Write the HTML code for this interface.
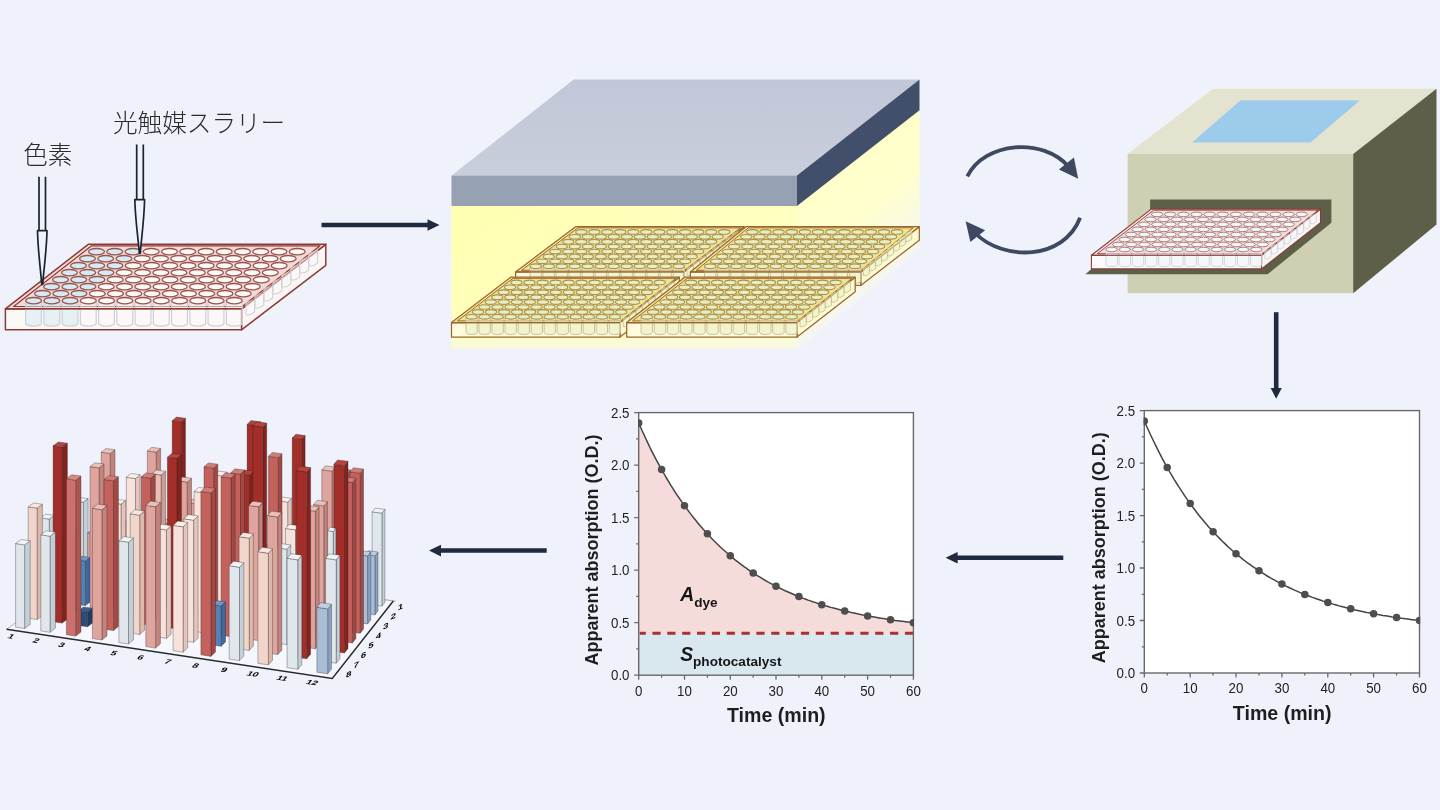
<!DOCTYPE html>
<html lang="ja"><head><meta charset="utf-8"><title>光触媒スラリー 色素</title>
<style>
html,body{margin:0;padding:0;background:#f0f2fb;}
body{width:1440px;height:810px;overflow:hidden;font-family:"Liberation Sans","Noto Sans CJK JP",sans-serif;}
svg{display:block}
text{font-family:"Liberation Sans","Noto Sans CJK JP",sans-serif;}
</style></head><body>
<svg width="1440" height="810" viewBox="0 0 1440 810">
<defs>
<linearGradient id="ygrad" x1="0" y1="0" x2="1" y2="1">
<stop offset="0" stop-color="#ffffa6"/><stop offset="0.5" stop-color="#ffffbe"/><stop offset="1" stop-color="#ffffd6"/>
</linearGradient>
<linearGradient id="yfade" x1="0" y1="0" x2="0" y2="1">
<stop offset="0" stop-color="#ffffc0" stop-opacity="1"/><stop offset="1" stop-color="#ffffd0" stop-opacity="0"/>
</linearGradient>
<linearGradient id="slabtop" x1="0" y1="0" x2="0" y2="1"><stop offset="0" stop-color="#c2c7d7"/><stop offset="1" stop-color="#c9cedd"/></linearGradient>
<linearGradient id="fadeb" x1="0" y1="0" x2="0" y2="1"><stop offset="0" stop-color="#f0f2fb" stop-opacity="0"/><stop offset="1" stop-color="#f0f2fb" stop-opacity="0.6"/></linearGradient>
<linearGradient id="faded" gradientUnits="userSpaceOnUse" x1="822" y1="246" x2="862" y2="295"><stop offset="0" stop-color="#f0f2fb" stop-opacity="0"/><stop offset="1" stop-color="#f0f2fb" stop-opacity="0.7"/></linearGradient>
</defs>
<rect width="1440" height="810" fill="#f0f2fb"/>

<g id="arrows">
<line x1="321.5" y1="225" x2="429.9" y2="225" stroke="#1f2a3e" stroke-width="4.5"/><polygon points="439.5,225 427.5,219.2 427.5,230.8" fill="#1f2a3e"/>
<line x1="1063.3" y1="557.7" x2="955.2" y2="557.7" stroke="#1f2a3e" stroke-width="4.5"/><polygon points="945.6,557.7 957.6,551.9000000000001 957.6,563.5" fill="#1f2a3e"/>
<line x1="546.7" y1="550.6" x2="438.6" y2="550.6" stroke="#1f2a3e" stroke-width="4.5"/><polygon points="429,550.6 441,544.8000000000001 441,556.4" fill="#1f2a3e"/>
<line x1="1276.2" y1="312.2" x2="1276.2" y2="390" stroke="#1f2a3e" stroke-width="4.6"/><polygon points="1276.2,398.8 1270.6,388 1281.8,388" fill="#1f2a3e"/>
<path d="M967.3,176.3 C 985,141.5 1043,137 1069,167" fill="none" stroke="#3c4961" stroke-width="3.8"/>
<polygon points="1073.9,157.6 1058.9,169.4 1078.2,178.7" fill="#3c4961"/>
<path d="M1080.1,217.8 C 1064,260 1004,262 975,233" fill="none" stroke="#3c4961" stroke-width="3.8"/>
<polygon points="965.6,221.2 985.1,230.2 970.4,242" fill="#3c4961"/>
</g>
<g id="plate-left">
<polygon points="241.5,308.8 325.8,244.3 325.8,265.3 241.5,329.8" fill="#fbf6f6" stroke="#8c3b36" stroke-width="1.5" stroke-linejoin="round"/>
<polygon points="5.4,308.8 241.5,308.8 241.5,329.8 5.4,329.8" fill="#fbf8f8" stroke="#8c3b36" stroke-width="1.5" stroke-linejoin="round"/>
<polygon points="5.4,308.8 88.3,244.3 325.8,244.3 241.5,308.8" fill="#f3dcd9" stroke="#8c3b36" stroke-width="1.5" stroke-linejoin="round"/>
<polygon points="13.6,306.5 91.6,245.8 320.1,245.8 242.2,306.5" fill="#f4d9d6" stroke="#8c3b36" stroke-width="1.2000000000000002" stroke-linejoin="round"/>
<path d="M246.0,301.7 v13.0 q4.4,1.3 8.7,-2.8 v-13.0" fill="#fbf8f6" fill-opacity="0.5" stroke="#cfcfd8" stroke-width="1.0499999999999998"/>
<path d="M255.0,294.7 v13.0 q4.4,1.3 8.7,-2.8 v-13.0" fill="#fbf8f6" fill-opacity="0.5" stroke="#cfcfd8" stroke-width="1.0499999999999998"/>
<path d="M264.0,287.7 v13.0 q4.4,1.3 8.7,-2.8 v-13.0" fill="#fbf8f6" fill-opacity="0.5" stroke="#cfcfd8" stroke-width="1.0499999999999998"/>
<path d="M273.0,280.7 v13.0 q4.4,1.3 8.7,-2.8 v-13.0" fill="#fbf8f6" fill-opacity="0.5" stroke="#cfcfd8" stroke-width="1.0499999999999998"/>
<path d="M282.0,273.7 v13.0 q4.4,1.3 8.7,-2.8 v-13.0" fill="#fbf8f6" fill-opacity="0.5" stroke="#cfcfd8" stroke-width="1.0499999999999998"/>
<path d="M290.9,266.7 v13.0 q4.4,1.3 8.7,-2.8 v-13.0" fill="#fbf8f6" fill-opacity="0.5" stroke="#cfcfd8" stroke-width="1.0499999999999998"/>
<path d="M299.9,259.7 v13.0 q4.4,1.3 8.7,-2.8 v-13.0" fill="#fbf8f6" fill-opacity="0.5" stroke="#cfcfd8" stroke-width="1.0499999999999998"/>
<path d="M308.9,252.7 v13.0 q4.4,1.3 8.7,-2.8 v-13.0" fill="#fbf8f6" fill-opacity="0.5" stroke="#cfcfd8" stroke-width="1.0499999999999998"/>
<path d="M25.6,300.7 v22.6 a7.9,2.8 0 0 0 15.8,0 v-22.6" fill="#d6eaf3" fill-opacity="0.55" stroke="#cfcfd8" stroke-width="1.2000000000000002"/>
<path d="M43.9,300.7 v22.6 a7.9,2.8 0 0 0 15.8,0 v-22.6" fill="#d6eaf3" fill-opacity="0.55" stroke="#cfcfd8" stroke-width="1.2000000000000002"/>
<path d="M62.1,300.7 v22.6 a7.9,2.8 0 0 0 15.8,0 v-22.6" fill="#d6eaf3" fill-opacity="0.55" stroke="#cfcfd8" stroke-width="1.2000000000000002"/>
<path d="M80.4,300.7 v22.6 a7.9,2.8 0 0 0 15.8,0 v-22.6" fill="#fbf8f6" fill-opacity="0.55" stroke="#cfcfd8" stroke-width="1.2000000000000002"/>
<path d="M98.6,300.7 v22.6 a7.9,2.8 0 0 0 15.8,0 v-22.6" fill="#fbf8f6" fill-opacity="0.55" stroke="#cfcfd8" stroke-width="1.2000000000000002"/>
<path d="M116.9,300.7 v22.6 a7.9,2.8 0 0 0 15.8,0 v-22.6" fill="#fbf8f6" fill-opacity="0.55" stroke="#cfcfd8" stroke-width="1.2000000000000002"/>
<path d="M135.1,300.7 v22.6 a7.9,2.8 0 0 0 15.8,0 v-22.6" fill="#fbf8f6" fill-opacity="0.55" stroke="#cfcfd8" stroke-width="1.2000000000000002"/>
<path d="M153.4,300.7 v22.6 a7.9,2.8 0 0 0 15.8,0 v-22.6" fill="#fbf8f6" fill-opacity="0.55" stroke="#cfcfd8" stroke-width="1.2000000000000002"/>
<path d="M171.6,300.7 v22.6 a7.9,2.8 0 0 0 15.8,0 v-22.6" fill="#fbf8f6" fill-opacity="0.55" stroke="#cfcfd8" stroke-width="1.2000000000000002"/>
<path d="M189.9,300.7 v22.6 a7.9,2.8 0 0 0 15.8,0 v-22.6" fill="#fbf8f6" fill-opacity="0.55" stroke="#cfcfd8" stroke-width="1.2000000000000002"/>
<path d="M208.1,300.7 v22.6 a7.9,2.8 0 0 0 15.8,0 v-22.6" fill="#fbf8f6" fill-opacity="0.55" stroke="#cfcfd8" stroke-width="1.2000000000000002"/>
<path d="M226.4,300.7 v22.6 a7.9,2.8 0 0 0 15.8,0 v-22.6" fill="#fbf8f6" fill-opacity="0.55" stroke="#cfcfd8" stroke-width="1.2000000000000002"/>
<line x1="5.4" y1="308.8" x2="241.5" y2="308.8" stroke="#8c3b36" stroke-width="1.5"/>
<ellipse cx="96.5" cy="251.7" rx="7.9" ry="3.2" fill="#d6eaf3" stroke="#96544f" stroke-width="1.275"/>
<ellipse cx="114.7" cy="251.7" rx="7.9" ry="3.2" fill="#d6eaf3" stroke="#96544f" stroke-width="1.275"/>
<ellipse cx="133.0" cy="251.7" rx="7.9" ry="3.2" fill="#d6eaf3" stroke="#96544f" stroke-width="1.275"/>
<ellipse cx="151.2" cy="251.7" rx="7.9" ry="3.2" fill="#fbf8f6" stroke="#96544f" stroke-width="1.275"/>
<ellipse cx="169.5" cy="251.7" rx="7.9" ry="3.2" fill="#fbf8f6" stroke="#96544f" stroke-width="1.275"/>
<ellipse cx="187.7" cy="251.7" rx="7.9" ry="3.2" fill="#fbf8f6" stroke="#96544f" stroke-width="1.275"/>
<ellipse cx="206.0" cy="251.7" rx="7.9" ry="3.2" fill="#fbf8f6" stroke="#96544f" stroke-width="1.275"/>
<ellipse cx="224.2" cy="251.7" rx="7.9" ry="3.2" fill="#fbf8f6" stroke="#96544f" stroke-width="1.275"/>
<ellipse cx="242.5" cy="251.7" rx="7.9" ry="3.2" fill="#fbf8f6" stroke="#96544f" stroke-width="1.275"/>
<ellipse cx="260.7" cy="251.7" rx="7.9" ry="3.2" fill="#fbf8f6" stroke="#96544f" stroke-width="1.275"/>
<ellipse cx="279.0" cy="251.7" rx="7.9" ry="3.2" fill="#fbf8f6" stroke="#96544f" stroke-width="1.275"/>
<ellipse cx="297.2" cy="251.7" rx="7.9" ry="3.2" fill="#fbf8f6" stroke="#96544f" stroke-width="1.275"/>
<ellipse cx="87.5" cy="258.7" rx="7.9" ry="3.2" fill="#d6eaf3" stroke="#96544f" stroke-width="1.275"/>
<ellipse cx="105.7" cy="258.7" rx="7.9" ry="3.2" fill="#d6eaf3" stroke="#96544f" stroke-width="1.275"/>
<ellipse cx="124.0" cy="258.7" rx="7.9" ry="3.2" fill="#d6eaf3" stroke="#96544f" stroke-width="1.275"/>
<ellipse cx="142.2" cy="258.7" rx="7.9" ry="3.2" fill="#fbf8f6" stroke="#96544f" stroke-width="1.275"/>
<ellipse cx="160.5" cy="258.7" rx="7.9" ry="3.2" fill="#fbf8f6" stroke="#96544f" stroke-width="1.275"/>
<ellipse cx="178.7" cy="258.7" rx="7.9" ry="3.2" fill="#fbf8f6" stroke="#96544f" stroke-width="1.275"/>
<ellipse cx="197.0" cy="258.7" rx="7.9" ry="3.2" fill="#fbf8f6" stroke="#96544f" stroke-width="1.275"/>
<ellipse cx="215.2" cy="258.7" rx="7.9" ry="3.2" fill="#fbf8f6" stroke="#96544f" stroke-width="1.275"/>
<ellipse cx="233.5" cy="258.7" rx="7.9" ry="3.2" fill="#fbf8f6" stroke="#96544f" stroke-width="1.275"/>
<ellipse cx="251.7" cy="258.7" rx="7.9" ry="3.2" fill="#fbf8f6" stroke="#96544f" stroke-width="1.275"/>
<ellipse cx="270.0" cy="258.7" rx="7.9" ry="3.2" fill="#fbf8f6" stroke="#96544f" stroke-width="1.275"/>
<ellipse cx="288.2" cy="258.7" rx="7.9" ry="3.2" fill="#fbf8f6" stroke="#96544f" stroke-width="1.275"/>
<ellipse cx="78.5" cy="265.7" rx="7.9" ry="3.2" fill="#d6eaf3" stroke="#96544f" stroke-width="1.275"/>
<ellipse cx="96.7" cy="265.7" rx="7.9" ry="3.2" fill="#d6eaf3" stroke="#96544f" stroke-width="1.275"/>
<ellipse cx="115.0" cy="265.7" rx="7.9" ry="3.2" fill="#d6eaf3" stroke="#96544f" stroke-width="1.275"/>
<ellipse cx="133.2" cy="265.7" rx="7.9" ry="3.2" fill="#fbf8f6" stroke="#96544f" stroke-width="1.275"/>
<ellipse cx="151.5" cy="265.7" rx="7.9" ry="3.2" fill="#fbf8f6" stroke="#96544f" stroke-width="1.275"/>
<ellipse cx="169.7" cy="265.7" rx="7.9" ry="3.2" fill="#fbf8f6" stroke="#96544f" stroke-width="1.275"/>
<ellipse cx="188.0" cy="265.7" rx="7.9" ry="3.2" fill="#fbf8f6" stroke="#96544f" stroke-width="1.275"/>
<ellipse cx="206.2" cy="265.7" rx="7.9" ry="3.2" fill="#fbf8f6" stroke="#96544f" stroke-width="1.275"/>
<ellipse cx="224.5" cy="265.7" rx="7.9" ry="3.2" fill="#fbf8f6" stroke="#96544f" stroke-width="1.275"/>
<ellipse cx="242.7" cy="265.7" rx="7.9" ry="3.2" fill="#fbf8f6" stroke="#96544f" stroke-width="1.275"/>
<ellipse cx="261.0" cy="265.7" rx="7.9" ry="3.2" fill="#fbf8f6" stroke="#96544f" stroke-width="1.275"/>
<ellipse cx="279.2" cy="265.7" rx="7.9" ry="3.2" fill="#fbf8f6" stroke="#96544f" stroke-width="1.275"/>
<ellipse cx="69.5" cy="272.7" rx="7.9" ry="3.2" fill="#d6eaf3" stroke="#96544f" stroke-width="1.275"/>
<ellipse cx="87.7" cy="272.7" rx="7.9" ry="3.2" fill="#d6eaf3" stroke="#96544f" stroke-width="1.275"/>
<ellipse cx="106.0" cy="272.7" rx="7.9" ry="3.2" fill="#d6eaf3" stroke="#96544f" stroke-width="1.275"/>
<ellipse cx="124.2" cy="272.7" rx="7.9" ry="3.2" fill="#fbf8f6" stroke="#96544f" stroke-width="1.275"/>
<ellipse cx="142.5" cy="272.7" rx="7.9" ry="3.2" fill="#fbf8f6" stroke="#96544f" stroke-width="1.275"/>
<ellipse cx="160.8" cy="272.7" rx="7.9" ry="3.2" fill="#fbf8f6" stroke="#96544f" stroke-width="1.275"/>
<ellipse cx="179.0" cy="272.7" rx="7.9" ry="3.2" fill="#fbf8f6" stroke="#96544f" stroke-width="1.275"/>
<ellipse cx="197.3" cy="272.7" rx="7.9" ry="3.2" fill="#fbf8f6" stroke="#96544f" stroke-width="1.275"/>
<ellipse cx="215.5" cy="272.7" rx="7.9" ry="3.2" fill="#fbf8f6" stroke="#96544f" stroke-width="1.275"/>
<ellipse cx="233.8" cy="272.7" rx="7.9" ry="3.2" fill="#fbf8f6" stroke="#96544f" stroke-width="1.275"/>
<ellipse cx="252.0" cy="272.7" rx="7.9" ry="3.2" fill="#fbf8f6" stroke="#96544f" stroke-width="1.275"/>
<ellipse cx="270.3" cy="272.7" rx="7.9" ry="3.2" fill="#fbf8f6" stroke="#96544f" stroke-width="1.275"/>
<ellipse cx="60.5" cy="279.7" rx="7.9" ry="3.2" fill="#d6eaf3" stroke="#96544f" stroke-width="1.275"/>
<ellipse cx="78.8" cy="279.7" rx="7.9" ry="3.2" fill="#d6eaf3" stroke="#96544f" stroke-width="1.275"/>
<ellipse cx="97.0" cy="279.7" rx="7.9" ry="3.2" fill="#d6eaf3" stroke="#96544f" stroke-width="1.275"/>
<ellipse cx="115.3" cy="279.7" rx="7.9" ry="3.2" fill="#fbf8f6" stroke="#96544f" stroke-width="1.275"/>
<ellipse cx="133.5" cy="279.7" rx="7.9" ry="3.2" fill="#fbf8f6" stroke="#96544f" stroke-width="1.275"/>
<ellipse cx="151.8" cy="279.7" rx="7.9" ry="3.2" fill="#fbf8f6" stroke="#96544f" stroke-width="1.275"/>
<ellipse cx="170.0" cy="279.7" rx="7.9" ry="3.2" fill="#fbf8f6" stroke="#96544f" stroke-width="1.275"/>
<ellipse cx="188.3" cy="279.7" rx="7.9" ry="3.2" fill="#fbf8f6" stroke="#96544f" stroke-width="1.275"/>
<ellipse cx="206.5" cy="279.7" rx="7.9" ry="3.2" fill="#fbf8f6" stroke="#96544f" stroke-width="1.275"/>
<ellipse cx="224.8" cy="279.7" rx="7.9" ry="3.2" fill="#fbf8f6" stroke="#96544f" stroke-width="1.275"/>
<ellipse cx="243.0" cy="279.7" rx="7.9" ry="3.2" fill="#fbf8f6" stroke="#96544f" stroke-width="1.275"/>
<ellipse cx="261.3" cy="279.7" rx="7.9" ry="3.2" fill="#fbf8f6" stroke="#96544f" stroke-width="1.275"/>
<ellipse cx="51.5" cy="286.7" rx="7.9" ry="3.2" fill="#d6eaf3" stroke="#96544f" stroke-width="1.275"/>
<ellipse cx="69.8" cy="286.7" rx="7.9" ry="3.2" fill="#d6eaf3" stroke="#96544f" stroke-width="1.275"/>
<ellipse cx="88.0" cy="286.7" rx="7.9" ry="3.2" fill="#d6eaf3" stroke="#96544f" stroke-width="1.275"/>
<ellipse cx="106.3" cy="286.7" rx="7.9" ry="3.2" fill="#fbf8f6" stroke="#96544f" stroke-width="1.275"/>
<ellipse cx="124.5" cy="286.7" rx="7.9" ry="3.2" fill="#fbf8f6" stroke="#96544f" stroke-width="1.275"/>
<ellipse cx="142.8" cy="286.7" rx="7.9" ry="3.2" fill="#fbf8f6" stroke="#96544f" stroke-width="1.275"/>
<ellipse cx="161.0" cy="286.7" rx="7.9" ry="3.2" fill="#fbf8f6" stroke="#96544f" stroke-width="1.275"/>
<ellipse cx="179.3" cy="286.7" rx="7.9" ry="3.2" fill="#fbf8f6" stroke="#96544f" stroke-width="1.275"/>
<ellipse cx="197.5" cy="286.7" rx="7.9" ry="3.2" fill="#fbf8f6" stroke="#96544f" stroke-width="1.275"/>
<ellipse cx="215.8" cy="286.7" rx="7.9" ry="3.2" fill="#fbf8f6" stroke="#96544f" stroke-width="1.275"/>
<ellipse cx="234.0" cy="286.7" rx="7.9" ry="3.2" fill="#fbf8f6" stroke="#96544f" stroke-width="1.275"/>
<ellipse cx="252.3" cy="286.7" rx="7.9" ry="3.2" fill="#fbf8f6" stroke="#96544f" stroke-width="1.275"/>
<ellipse cx="42.5" cy="293.7" rx="7.9" ry="3.2" fill="#d6eaf3" stroke="#96544f" stroke-width="1.275"/>
<ellipse cx="60.8" cy="293.7" rx="7.9" ry="3.2" fill="#d6eaf3" stroke="#96544f" stroke-width="1.275"/>
<ellipse cx="79.0" cy="293.7" rx="7.9" ry="3.2" fill="#d6eaf3" stroke="#96544f" stroke-width="1.275"/>
<ellipse cx="97.3" cy="293.7" rx="7.9" ry="3.2" fill="#fbf8f6" stroke="#96544f" stroke-width="1.275"/>
<ellipse cx="115.5" cy="293.7" rx="7.9" ry="3.2" fill="#fbf8f6" stroke="#96544f" stroke-width="1.275"/>
<ellipse cx="133.8" cy="293.7" rx="7.9" ry="3.2" fill="#fbf8f6" stroke="#96544f" stroke-width="1.275"/>
<ellipse cx="152.0" cy="293.7" rx="7.9" ry="3.2" fill="#fbf8f6" stroke="#96544f" stroke-width="1.275"/>
<ellipse cx="170.3" cy="293.7" rx="7.9" ry="3.2" fill="#fbf8f6" stroke="#96544f" stroke-width="1.275"/>
<ellipse cx="188.5" cy="293.7" rx="7.9" ry="3.2" fill="#fbf8f6" stroke="#96544f" stroke-width="1.275"/>
<ellipse cx="206.8" cy="293.7" rx="7.9" ry="3.2" fill="#fbf8f6" stroke="#96544f" stroke-width="1.275"/>
<ellipse cx="225.0" cy="293.7" rx="7.9" ry="3.2" fill="#fbf8f6" stroke="#96544f" stroke-width="1.275"/>
<ellipse cx="243.3" cy="293.7" rx="7.9" ry="3.2" fill="#fbf8f6" stroke="#96544f" stroke-width="1.275"/>
<ellipse cx="33.6" cy="300.7" rx="7.9" ry="3.2" fill="#d6eaf3" stroke="#96544f" stroke-width="1.275"/>
<ellipse cx="51.8" cy="300.7" rx="7.9" ry="3.2" fill="#d6eaf3" stroke="#96544f" stroke-width="1.275"/>
<ellipse cx="70.1" cy="300.7" rx="7.9" ry="3.2" fill="#d6eaf3" stroke="#96544f" stroke-width="1.275"/>
<ellipse cx="88.3" cy="300.7" rx="7.9" ry="3.2" fill="#fbf8f6" stroke="#96544f" stroke-width="1.275"/>
<ellipse cx="106.6" cy="300.7" rx="7.9" ry="3.2" fill="#fbf8f6" stroke="#96544f" stroke-width="1.275"/>
<ellipse cx="124.8" cy="300.7" rx="7.9" ry="3.2" fill="#fbf8f6" stroke="#96544f" stroke-width="1.275"/>
<ellipse cx="143.1" cy="300.7" rx="7.9" ry="3.2" fill="#fbf8f6" stroke="#96544f" stroke-width="1.275"/>
<ellipse cx="161.3" cy="300.7" rx="7.9" ry="3.2" fill="#fbf8f6" stroke="#96544f" stroke-width="1.275"/>
<ellipse cx="179.6" cy="300.7" rx="7.9" ry="3.2" fill="#fbf8f6" stroke="#96544f" stroke-width="1.275"/>
<ellipse cx="197.8" cy="300.7" rx="7.9" ry="3.2" fill="#fbf8f6" stroke="#96544f" stroke-width="1.275"/>
<ellipse cx="216.1" cy="300.7" rx="7.9" ry="3.2" fill="#fbf8f6" stroke="#96544f" stroke-width="1.275"/>
<ellipse cx="234.3" cy="300.7" rx="7.9" ry="3.2" fill="#fbf8f6" stroke="#96544f" stroke-width="1.275"/>
</g>
<g id="pipettes" stroke="#1a2432" stroke-width="1.7" fill="none" stroke-linejoin="round">
<path d="M39,176.7 V230.7 M45.5,176.7 V230.7"/>
<path d="M37.5,230.7 H47 C46.6,250 44,268 42.6,284.5 L41.8,284.5 C40.4,268 37.9,250 37.5,230.7 Z" fill="#f0f2fb"/>
<path d="M136.7,144.6 V199.6 M143.3,144.6 V199.6"/>
<path d="M134.8,199.6 H144.6 C144.2,219 141.6,237 140.2,253.5 L139.4,253.5 C138,237 135.2,219 134.8,199.6 Z" fill="#f0f2fb"/>
</g>
<g id="labels" fill="#2b2b2b" font-size="24.6" font-weight="300">
<text x="113" y="132.4">光触媒スラリー</text>
<text x="23.2" y="164" font-size="24.6">色素</text>
</g>
<g id="lightbox">
<polygon points="451.5,205 797,205 919.5,109 919.5,249 797,349 451.5,349" fill="url(#ygrad)"/>
<polygon points="797,206 919.5,110.3 919.5,249 797,349" fill="#ffffe0" fill-opacity="0.35"/>
<rect x="451.5" y="336" width="345.5" height="13" fill="url(#fadeb)"/>
<polygon points="797,349 919.5,249 919.5,170 797,270" fill="url(#faded)"/>
<polygon points="451.5,175.6 573.7,79.6 919.5,79.6 797,175.6" fill="url(#slabtop)"/>
<polygon points="451.5,175.6 797,175.6 797,206 451.5,206" fill="#96a1b4"/>
<polygon points="797,175.6 919.5,79.6 919.5,110.3 797,206" fill="#414f6a"/>
<polygon points="683.7,271.9 744.0,226.7 744.0,240.2 683.7,285.4" fill="#fffad2" stroke="#9a6630" stroke-width="1.25" stroke-linejoin="round"/>
<polygon points="515.6,271.9 683.7,271.9 683.7,285.4 515.6,285.4" fill="#fffbdc" stroke="#9a6630" stroke-width="1.25" stroke-linejoin="round"/>
<polygon points="515.6,271.9 575.6,226.7 744.0,226.7 683.7,271.9" fill="#f3e89a" stroke="#9a6630" stroke-width="1.25" stroke-linejoin="round"/>
<polygon points="521.5,270.3 577.9,227.8 740.6,227.8 684.2,270.3" fill="#f1e491" stroke="#9a6630" stroke-width="1.0" stroke-linejoin="round"/>
<path d="M687.0,267.2 v8.4 q3.1,0.9 6.2,-2.0 v-8.4" fill="#e6efc4" fill-opacity="0.5" stroke="#c9c294" stroke-width="0.875"/>
<path d="M693.5,262.3 v8.4 q3.1,0.9 6.2,-2.0 v-8.4" fill="#e6efc4" fill-opacity="0.5" stroke="#c9c294" stroke-width="0.875"/>
<path d="M700.0,257.4 v8.4 q3.1,0.9 6.2,-2.0 v-8.4" fill="#e6efc4" fill-opacity="0.5" stroke="#c9c294" stroke-width="0.875"/>
<path d="M706.5,252.5 v8.4 q3.1,0.9 6.2,-2.0 v-8.4" fill="#e6efc4" fill-opacity="0.5" stroke="#c9c294" stroke-width="0.875"/>
<path d="M713.1,247.6 v8.4 q3.1,0.9 6.2,-2.0 v-8.4" fill="#e6efc4" fill-opacity="0.5" stroke="#c9c294" stroke-width="0.875"/>
<path d="M719.6,242.7 v8.4 q3.1,0.9 6.2,-2.0 v-8.4" fill="#e6efc4" fill-opacity="0.5" stroke="#c9c294" stroke-width="0.875"/>
<path d="M726.1,237.8 v8.4 q3.1,0.9 6.2,-2.0 v-8.4" fill="#e6efc4" fill-opacity="0.5" stroke="#c9c294" stroke-width="0.875"/>
<path d="M732.6,232.9 v8.4 q3.1,0.9 6.2,-2.0 v-8.4" fill="#e6efc4" fill-opacity="0.5" stroke="#c9c294" stroke-width="0.875"/>
<path d="M530.1,266.2 v14.9 a5.6,2.0 0 0 0 11.3,0 v-14.9" fill="#e6efc4" fill-opacity="0.55" stroke="#c9c294" stroke-width="1.0"/>
<path d="M543.1,266.2 v14.9 a5.6,2.0 0 0 0 11.3,0 v-14.9" fill="#e6efc4" fill-opacity="0.55" stroke="#c9c294" stroke-width="1.0"/>
<path d="M556.1,266.2 v14.9 a5.6,2.0 0 0 0 11.3,0 v-14.9" fill="#e6efc4" fill-opacity="0.55" stroke="#c9c294" stroke-width="1.0"/>
<path d="M569.1,266.2 v14.9 a5.6,2.0 0 0 0 11.3,0 v-14.9" fill="#e6efc4" fill-opacity="0.55" stroke="#c9c294" stroke-width="1.0"/>
<path d="M582.1,266.2 v14.9 a5.6,2.0 0 0 0 11.3,0 v-14.9" fill="#e6efc4" fill-opacity="0.55" stroke="#c9c294" stroke-width="1.0"/>
<path d="M595.1,266.2 v14.9 a5.6,2.0 0 0 0 11.3,0 v-14.9" fill="#e6efc4" fill-opacity="0.55" stroke="#c9c294" stroke-width="1.0"/>
<path d="M608.1,266.2 v14.9 a5.6,2.0 0 0 0 11.3,0 v-14.9" fill="#e6efc4" fill-opacity="0.55" stroke="#c9c294" stroke-width="1.0"/>
<path d="M621.1,266.2 v14.9 a5.6,2.0 0 0 0 11.3,0 v-14.9" fill="#e6efc4" fill-opacity="0.55" stroke="#c9c294" stroke-width="1.0"/>
<path d="M634.1,266.2 v14.9 a5.6,2.0 0 0 0 11.3,0 v-14.9" fill="#e6efc4" fill-opacity="0.55" stroke="#c9c294" stroke-width="1.0"/>
<path d="M647.1,266.2 v14.9 a5.6,2.0 0 0 0 11.3,0 v-14.9" fill="#e6efc4" fill-opacity="0.55" stroke="#c9c294" stroke-width="1.0"/>
<path d="M660.1,266.2 v14.9 a5.6,2.0 0 0 0 11.3,0 v-14.9" fill="#e6efc4" fill-opacity="0.55" stroke="#c9c294" stroke-width="1.0"/>
<path d="M673.1,266.2 v14.9 a5.6,2.0 0 0 0 11.3,0 v-14.9" fill="#e6efc4" fill-opacity="0.55" stroke="#c9c294" stroke-width="1.0"/>
<line x1="515.6" y1="271.9" x2="683.7" y2="271.9" stroke="#9a6630" stroke-width="1.25"/>
<ellipse cx="581.3" cy="231.9" rx="5.6" ry="2.3" fill="#e6efc4" stroke="#ad9050" stroke-width="1.0625"/>
<ellipse cx="594.3" cy="231.9" rx="5.6" ry="2.3" fill="#e6efc4" stroke="#ad9050" stroke-width="1.0625"/>
<ellipse cx="607.3" cy="231.9" rx="5.6" ry="2.3" fill="#e6efc4" stroke="#ad9050" stroke-width="1.0625"/>
<ellipse cx="620.3" cy="231.9" rx="5.6" ry="2.3" fill="#e6efc4" stroke="#ad9050" stroke-width="1.0625"/>
<ellipse cx="633.3" cy="231.9" rx="5.6" ry="2.3" fill="#e6efc4" stroke="#ad9050" stroke-width="1.0625"/>
<ellipse cx="646.3" cy="231.9" rx="5.6" ry="2.3" fill="#e6efc4" stroke="#ad9050" stroke-width="1.0625"/>
<ellipse cx="659.3" cy="231.9" rx="5.6" ry="2.3" fill="#e6efc4" stroke="#ad9050" stroke-width="1.0625"/>
<ellipse cx="672.3" cy="231.9" rx="5.6" ry="2.3" fill="#e6efc4" stroke="#ad9050" stroke-width="1.0625"/>
<ellipse cx="685.2" cy="231.9" rx="5.6" ry="2.3" fill="#e6efc4" stroke="#ad9050" stroke-width="1.0625"/>
<ellipse cx="698.2" cy="231.9" rx="5.6" ry="2.3" fill="#e6efc4" stroke="#ad9050" stroke-width="1.0625"/>
<ellipse cx="711.2" cy="231.9" rx="5.6" ry="2.3" fill="#e6efc4" stroke="#ad9050" stroke-width="1.0625"/>
<ellipse cx="724.2" cy="231.9" rx="5.6" ry="2.3" fill="#e6efc4" stroke="#ad9050" stroke-width="1.0625"/>
<ellipse cx="574.8" cy="236.8" rx="5.6" ry="2.3" fill="#e6efc4" stroke="#ad9050" stroke-width="1.0625"/>
<ellipse cx="587.8" cy="236.8" rx="5.6" ry="2.3" fill="#e6efc4" stroke="#ad9050" stroke-width="1.0625"/>
<ellipse cx="600.8" cy="236.8" rx="5.6" ry="2.3" fill="#e6efc4" stroke="#ad9050" stroke-width="1.0625"/>
<ellipse cx="613.8" cy="236.8" rx="5.6" ry="2.3" fill="#e6efc4" stroke="#ad9050" stroke-width="1.0625"/>
<ellipse cx="626.8" cy="236.8" rx="5.6" ry="2.3" fill="#e6efc4" stroke="#ad9050" stroke-width="1.0625"/>
<ellipse cx="639.8" cy="236.8" rx="5.6" ry="2.3" fill="#e6efc4" stroke="#ad9050" stroke-width="1.0625"/>
<ellipse cx="652.8" cy="236.8" rx="5.6" ry="2.3" fill="#e6efc4" stroke="#ad9050" stroke-width="1.0625"/>
<ellipse cx="665.8" cy="236.8" rx="5.6" ry="2.3" fill="#e6efc4" stroke="#ad9050" stroke-width="1.0625"/>
<ellipse cx="678.7" cy="236.8" rx="5.6" ry="2.3" fill="#e6efc4" stroke="#ad9050" stroke-width="1.0625"/>
<ellipse cx="691.7" cy="236.8" rx="5.6" ry="2.3" fill="#e6efc4" stroke="#ad9050" stroke-width="1.0625"/>
<ellipse cx="704.7" cy="236.8" rx="5.6" ry="2.3" fill="#e6efc4" stroke="#ad9050" stroke-width="1.0625"/>
<ellipse cx="717.7" cy="236.8" rx="5.6" ry="2.3" fill="#e6efc4" stroke="#ad9050" stroke-width="1.0625"/>
<ellipse cx="568.3" cy="241.7" rx="5.6" ry="2.3" fill="#e6efc4" stroke="#ad9050" stroke-width="1.0625"/>
<ellipse cx="581.3" cy="241.7" rx="5.6" ry="2.3" fill="#e6efc4" stroke="#ad9050" stroke-width="1.0625"/>
<ellipse cx="594.3" cy="241.7" rx="5.6" ry="2.3" fill="#e6efc4" stroke="#ad9050" stroke-width="1.0625"/>
<ellipse cx="607.3" cy="241.7" rx="5.6" ry="2.3" fill="#e6efc4" stroke="#ad9050" stroke-width="1.0625"/>
<ellipse cx="620.3" cy="241.7" rx="5.6" ry="2.3" fill="#e6efc4" stroke="#ad9050" stroke-width="1.0625"/>
<ellipse cx="633.3" cy="241.7" rx="5.6" ry="2.3" fill="#e6efc4" stroke="#ad9050" stroke-width="1.0625"/>
<ellipse cx="646.3" cy="241.7" rx="5.6" ry="2.3" fill="#e6efc4" stroke="#ad9050" stroke-width="1.0625"/>
<ellipse cx="659.2" cy="241.7" rx="5.6" ry="2.3" fill="#e6efc4" stroke="#ad9050" stroke-width="1.0625"/>
<ellipse cx="672.2" cy="241.7" rx="5.6" ry="2.3" fill="#e6efc4" stroke="#ad9050" stroke-width="1.0625"/>
<ellipse cx="685.2" cy="241.7" rx="5.6" ry="2.3" fill="#e6efc4" stroke="#ad9050" stroke-width="1.0625"/>
<ellipse cx="698.2" cy="241.7" rx="5.6" ry="2.3" fill="#e6efc4" stroke="#ad9050" stroke-width="1.0625"/>
<ellipse cx="711.2" cy="241.7" rx="5.6" ry="2.3" fill="#e6efc4" stroke="#ad9050" stroke-width="1.0625"/>
<ellipse cx="561.8" cy="246.6" rx="5.6" ry="2.3" fill="#e6efc4" stroke="#ad9050" stroke-width="1.0625"/>
<ellipse cx="574.8" cy="246.6" rx="5.6" ry="2.3" fill="#e6efc4" stroke="#ad9050" stroke-width="1.0625"/>
<ellipse cx="587.8" cy="246.6" rx="5.6" ry="2.3" fill="#e6efc4" stroke="#ad9050" stroke-width="1.0625"/>
<ellipse cx="600.8" cy="246.6" rx="5.6" ry="2.3" fill="#e6efc4" stroke="#ad9050" stroke-width="1.0625"/>
<ellipse cx="613.8" cy="246.6" rx="5.6" ry="2.3" fill="#e6efc4" stroke="#ad9050" stroke-width="1.0625"/>
<ellipse cx="626.8" cy="246.6" rx="5.6" ry="2.3" fill="#e6efc4" stroke="#ad9050" stroke-width="1.0625"/>
<ellipse cx="639.7" cy="246.6" rx="5.6" ry="2.3" fill="#e6efc4" stroke="#ad9050" stroke-width="1.0625"/>
<ellipse cx="652.7" cy="246.6" rx="5.6" ry="2.3" fill="#e6efc4" stroke="#ad9050" stroke-width="1.0625"/>
<ellipse cx="665.7" cy="246.6" rx="5.6" ry="2.3" fill="#e6efc4" stroke="#ad9050" stroke-width="1.0625"/>
<ellipse cx="678.7" cy="246.6" rx="5.6" ry="2.3" fill="#e6efc4" stroke="#ad9050" stroke-width="1.0625"/>
<ellipse cx="691.7" cy="246.6" rx="5.6" ry="2.3" fill="#e6efc4" stroke="#ad9050" stroke-width="1.0625"/>
<ellipse cx="704.7" cy="246.6" rx="5.6" ry="2.3" fill="#e6efc4" stroke="#ad9050" stroke-width="1.0625"/>
<ellipse cx="555.3" cy="251.5" rx="5.6" ry="2.3" fill="#e6efc4" stroke="#ad9050" stroke-width="1.0625"/>
<ellipse cx="568.3" cy="251.5" rx="5.6" ry="2.3" fill="#e6efc4" stroke="#ad9050" stroke-width="1.0625"/>
<ellipse cx="581.3" cy="251.5" rx="5.6" ry="2.3" fill="#e6efc4" stroke="#ad9050" stroke-width="1.0625"/>
<ellipse cx="594.3" cy="251.5" rx="5.6" ry="2.3" fill="#e6efc4" stroke="#ad9050" stroke-width="1.0625"/>
<ellipse cx="607.3" cy="251.5" rx="5.6" ry="2.3" fill="#e6efc4" stroke="#ad9050" stroke-width="1.0625"/>
<ellipse cx="620.3" cy="251.5" rx="5.6" ry="2.3" fill="#e6efc4" stroke="#ad9050" stroke-width="1.0625"/>
<ellipse cx="633.2" cy="251.5" rx="5.6" ry="2.3" fill="#e6efc4" stroke="#ad9050" stroke-width="1.0625"/>
<ellipse cx="646.2" cy="251.5" rx="5.6" ry="2.3" fill="#e6efc4" stroke="#ad9050" stroke-width="1.0625"/>
<ellipse cx="659.2" cy="251.5" rx="5.6" ry="2.3" fill="#e6efc4" stroke="#ad9050" stroke-width="1.0625"/>
<ellipse cx="672.2" cy="251.5" rx="5.6" ry="2.3" fill="#e6efc4" stroke="#ad9050" stroke-width="1.0625"/>
<ellipse cx="685.2" cy="251.5" rx="5.6" ry="2.3" fill="#e6efc4" stroke="#ad9050" stroke-width="1.0625"/>
<ellipse cx="698.2" cy="251.5" rx="5.6" ry="2.3" fill="#e6efc4" stroke="#ad9050" stroke-width="1.0625"/>
<ellipse cx="548.8" cy="256.4" rx="5.6" ry="2.3" fill="#e6efc4" stroke="#ad9050" stroke-width="1.0625"/>
<ellipse cx="561.8" cy="256.4" rx="5.6" ry="2.3" fill="#e6efc4" stroke="#ad9050" stroke-width="1.0625"/>
<ellipse cx="574.8" cy="256.4" rx="5.6" ry="2.3" fill="#e6efc4" stroke="#ad9050" stroke-width="1.0625"/>
<ellipse cx="587.8" cy="256.4" rx="5.6" ry="2.3" fill="#e6efc4" stroke="#ad9050" stroke-width="1.0625"/>
<ellipse cx="600.8" cy="256.4" rx="5.6" ry="2.3" fill="#e6efc4" stroke="#ad9050" stroke-width="1.0625"/>
<ellipse cx="613.7" cy="256.4" rx="5.6" ry="2.3" fill="#e6efc4" stroke="#ad9050" stroke-width="1.0625"/>
<ellipse cx="626.7" cy="256.4" rx="5.6" ry="2.3" fill="#e6efc4" stroke="#ad9050" stroke-width="1.0625"/>
<ellipse cx="639.7" cy="256.4" rx="5.6" ry="2.3" fill="#e6efc4" stroke="#ad9050" stroke-width="1.0625"/>
<ellipse cx="652.7" cy="256.4" rx="5.6" ry="2.3" fill="#e6efc4" stroke="#ad9050" stroke-width="1.0625"/>
<ellipse cx="665.7" cy="256.4" rx="5.6" ry="2.3" fill="#e6efc4" stroke="#ad9050" stroke-width="1.0625"/>
<ellipse cx="678.7" cy="256.4" rx="5.6" ry="2.3" fill="#e6efc4" stroke="#ad9050" stroke-width="1.0625"/>
<ellipse cx="691.7" cy="256.4" rx="5.6" ry="2.3" fill="#e6efc4" stroke="#ad9050" stroke-width="1.0625"/>
<ellipse cx="542.3" cy="261.3" rx="5.6" ry="2.3" fill="#e6efc4" stroke="#ad9050" stroke-width="1.0625"/>
<ellipse cx="555.3" cy="261.3" rx="5.6" ry="2.3" fill="#e6efc4" stroke="#ad9050" stroke-width="1.0625"/>
<ellipse cx="568.3" cy="261.3" rx="5.6" ry="2.3" fill="#e6efc4" stroke="#ad9050" stroke-width="1.0625"/>
<ellipse cx="581.3" cy="261.3" rx="5.6" ry="2.3" fill="#e6efc4" stroke="#ad9050" stroke-width="1.0625"/>
<ellipse cx="594.2" cy="261.3" rx="5.6" ry="2.3" fill="#e6efc4" stroke="#ad9050" stroke-width="1.0625"/>
<ellipse cx="607.2" cy="261.3" rx="5.6" ry="2.3" fill="#e6efc4" stroke="#ad9050" stroke-width="1.0625"/>
<ellipse cx="620.2" cy="261.3" rx="5.6" ry="2.3" fill="#e6efc4" stroke="#ad9050" stroke-width="1.0625"/>
<ellipse cx="633.2" cy="261.3" rx="5.6" ry="2.3" fill="#e6efc4" stroke="#ad9050" stroke-width="1.0625"/>
<ellipse cx="646.2" cy="261.3" rx="5.6" ry="2.3" fill="#e6efc4" stroke="#ad9050" stroke-width="1.0625"/>
<ellipse cx="659.2" cy="261.3" rx="5.6" ry="2.3" fill="#e6efc4" stroke="#ad9050" stroke-width="1.0625"/>
<ellipse cx="672.2" cy="261.3" rx="5.6" ry="2.3" fill="#e6efc4" stroke="#ad9050" stroke-width="1.0625"/>
<ellipse cx="685.2" cy="261.3" rx="5.6" ry="2.3" fill="#e6efc4" stroke="#ad9050" stroke-width="1.0625"/>
<ellipse cx="535.8" cy="266.2" rx="5.6" ry="2.3" fill="#e6efc4" stroke="#ad9050" stroke-width="1.0625"/>
<ellipse cx="548.8" cy="266.2" rx="5.6" ry="2.3" fill="#e6efc4" stroke="#ad9050" stroke-width="1.0625"/>
<ellipse cx="561.8" cy="266.2" rx="5.6" ry="2.3" fill="#e6efc4" stroke="#ad9050" stroke-width="1.0625"/>
<ellipse cx="574.7" cy="266.2" rx="5.6" ry="2.3" fill="#e6efc4" stroke="#ad9050" stroke-width="1.0625"/>
<ellipse cx="587.7" cy="266.2" rx="5.6" ry="2.3" fill="#e6efc4" stroke="#ad9050" stroke-width="1.0625"/>
<ellipse cx="600.7" cy="266.2" rx="5.6" ry="2.3" fill="#e6efc4" stroke="#ad9050" stroke-width="1.0625"/>
<ellipse cx="613.7" cy="266.2" rx="5.6" ry="2.3" fill="#e6efc4" stroke="#ad9050" stroke-width="1.0625"/>
<ellipse cx="626.7" cy="266.2" rx="5.6" ry="2.3" fill="#e6efc4" stroke="#ad9050" stroke-width="1.0625"/>
<ellipse cx="639.7" cy="266.2" rx="5.6" ry="2.3" fill="#e6efc4" stroke="#ad9050" stroke-width="1.0625"/>
<ellipse cx="652.7" cy="266.2" rx="5.6" ry="2.3" fill="#e6efc4" stroke="#ad9050" stroke-width="1.0625"/>
<ellipse cx="665.7" cy="266.2" rx="5.6" ry="2.3" fill="#e6efc4" stroke="#ad9050" stroke-width="1.0625"/>
<ellipse cx="678.7" cy="266.2" rx="5.6" ry="2.3" fill="#e6efc4" stroke="#ad9050" stroke-width="1.0625"/>
<polygon points="860.7,271.9 919.3,226.7 919.3,240.2 860.7,285.4" fill="#fffad2" stroke="#9a6630" stroke-width="1.25" stroke-linejoin="round"/>
<polygon points="690.4,271.9 860.7,271.9 860.7,285.4 690.4,285.4" fill="#fffbdc" stroke="#9a6630" stroke-width="1.25" stroke-linejoin="round"/>
<polygon points="690.4,271.9 745.9,226.7 919.3,226.7 860.7,271.9" fill="#f3e89a" stroke="#9a6630" stroke-width="1.25" stroke-linejoin="round"/>
<polygon points="696.2,270.3 748.4,227.8 913.2,227.8 861.0,270.3" fill="#f1e491" stroke="#9a6630" stroke-width="1.0" stroke-linejoin="round"/>
<path d="M863.4,267.2 v8.4 q3.1,0.9 6.3,-2.1 v-8.4" fill="#e6efc4" fill-opacity="0.5" stroke="#c9c294" stroke-width="0.875"/>
<path d="M869.4,262.3 v8.4 q3.1,0.9 6.3,-2.1 v-8.4" fill="#e6efc4" fill-opacity="0.5" stroke="#c9c294" stroke-width="0.875"/>
<path d="M875.4,257.4 v8.4 q3.1,0.9 6.3,-2.1 v-8.4" fill="#e6efc4" fill-opacity="0.5" stroke="#c9c294" stroke-width="0.875"/>
<path d="M881.5,252.5 v8.4 q3.1,0.9 6.3,-2.1 v-8.4" fill="#e6efc4" fill-opacity="0.5" stroke="#c9c294" stroke-width="0.875"/>
<path d="M887.5,247.6 v8.4 q3.1,0.9 6.3,-2.1 v-8.4" fill="#e6efc4" fill-opacity="0.5" stroke="#c9c294" stroke-width="0.875"/>
<path d="M893.5,242.7 v8.4 q3.1,0.9 6.3,-2.1 v-8.4" fill="#e6efc4" fill-opacity="0.5" stroke="#c9c294" stroke-width="0.875"/>
<path d="M899.5,237.8 v8.4 q3.1,0.9 6.3,-2.1 v-8.4" fill="#e6efc4" fill-opacity="0.5" stroke="#c9c294" stroke-width="0.875"/>
<path d="M905.5,232.9 v8.4 q3.1,0.9 6.3,-2.1 v-8.4" fill="#e6efc4" fill-opacity="0.5" stroke="#c9c294" stroke-width="0.875"/>
<path d="M704.5,266.2 v14.9 a5.7,2.1 0 0 0 11.4,0 v-14.9" fill="#e6efc4" fill-opacity="0.55" stroke="#c9c294" stroke-width="1.0"/>
<path d="M717.6,266.2 v14.9 a5.7,2.1 0 0 0 11.4,0 v-14.9" fill="#e6efc4" fill-opacity="0.55" stroke="#c9c294" stroke-width="1.0"/>
<path d="M730.8,266.2 v14.9 a5.7,2.1 0 0 0 11.4,0 v-14.9" fill="#e6efc4" fill-opacity="0.55" stroke="#c9c294" stroke-width="1.0"/>
<path d="M744.0,266.2 v14.9 a5.7,2.1 0 0 0 11.4,0 v-14.9" fill="#e6efc4" fill-opacity="0.55" stroke="#c9c294" stroke-width="1.0"/>
<path d="M757.1,266.2 v14.9 a5.7,2.1 0 0 0 11.4,0 v-14.9" fill="#e6efc4" fill-opacity="0.55" stroke="#c9c294" stroke-width="1.0"/>
<path d="M770.3,266.2 v14.9 a5.7,2.1 0 0 0 11.4,0 v-14.9" fill="#e6efc4" fill-opacity="0.55" stroke="#c9c294" stroke-width="1.0"/>
<path d="M783.4,266.2 v14.9 a5.7,2.1 0 0 0 11.4,0 v-14.9" fill="#e6efc4" fill-opacity="0.55" stroke="#c9c294" stroke-width="1.0"/>
<path d="M796.6,266.2 v14.9 a5.7,2.1 0 0 0 11.4,0 v-14.9" fill="#e6efc4" fill-opacity="0.55" stroke="#c9c294" stroke-width="1.0"/>
<path d="M809.8,266.2 v14.9 a5.7,2.1 0 0 0 11.4,0 v-14.9" fill="#e6efc4" fill-opacity="0.55" stroke="#c9c294" stroke-width="1.0"/>
<path d="M822.9,266.2 v14.9 a5.7,2.1 0 0 0 11.4,0 v-14.9" fill="#e6efc4" fill-opacity="0.55" stroke="#c9c294" stroke-width="1.0"/>
<path d="M836.1,266.2 v14.9 a5.7,2.1 0 0 0 11.4,0 v-14.9" fill="#e6efc4" fill-opacity="0.55" stroke="#c9c294" stroke-width="1.0"/>
<path d="M849.3,266.2 v14.9 a5.7,2.1 0 0 0 11.4,0 v-14.9" fill="#e6efc4" fill-opacity="0.55" stroke="#c9c294" stroke-width="1.0"/>
<line x1="690.4" y1="271.9" x2="860.7" y2="271.9" stroke="#9a6630" stroke-width="1.25"/>
<ellipse cx="752.3" cy="231.9" rx="5.7" ry="2.3" fill="#e6efc4" stroke="#ad9050" stroke-width="1.0625"/>
<ellipse cx="765.4" cy="231.9" rx="5.7" ry="2.3" fill="#e6efc4" stroke="#ad9050" stroke-width="1.0625"/>
<ellipse cx="778.6" cy="231.9" rx="5.7" ry="2.3" fill="#e6efc4" stroke="#ad9050" stroke-width="1.0625"/>
<ellipse cx="791.8" cy="231.9" rx="5.7" ry="2.3" fill="#e6efc4" stroke="#ad9050" stroke-width="1.0625"/>
<ellipse cx="804.9" cy="231.9" rx="5.7" ry="2.3" fill="#e6efc4" stroke="#ad9050" stroke-width="1.0625"/>
<ellipse cx="818.1" cy="231.9" rx="5.7" ry="2.3" fill="#e6efc4" stroke="#ad9050" stroke-width="1.0625"/>
<ellipse cx="831.3" cy="231.9" rx="5.7" ry="2.3" fill="#e6efc4" stroke="#ad9050" stroke-width="1.0625"/>
<ellipse cx="844.4" cy="231.9" rx="5.7" ry="2.3" fill="#e6efc4" stroke="#ad9050" stroke-width="1.0625"/>
<ellipse cx="857.6" cy="231.9" rx="5.7" ry="2.3" fill="#e6efc4" stroke="#ad9050" stroke-width="1.0625"/>
<ellipse cx="870.8" cy="231.9" rx="5.7" ry="2.3" fill="#e6efc4" stroke="#ad9050" stroke-width="1.0625"/>
<ellipse cx="883.9" cy="231.9" rx="5.7" ry="2.3" fill="#e6efc4" stroke="#ad9050" stroke-width="1.0625"/>
<ellipse cx="897.1" cy="231.9" rx="5.7" ry="2.3" fill="#e6efc4" stroke="#ad9050" stroke-width="1.0625"/>
<ellipse cx="746.3" cy="236.8" rx="5.7" ry="2.3" fill="#e6efc4" stroke="#ad9050" stroke-width="1.0625"/>
<ellipse cx="759.4" cy="236.8" rx="5.7" ry="2.3" fill="#e6efc4" stroke="#ad9050" stroke-width="1.0625"/>
<ellipse cx="772.6" cy="236.8" rx="5.7" ry="2.3" fill="#e6efc4" stroke="#ad9050" stroke-width="1.0625"/>
<ellipse cx="785.8" cy="236.8" rx="5.7" ry="2.3" fill="#e6efc4" stroke="#ad9050" stroke-width="1.0625"/>
<ellipse cx="798.9" cy="236.8" rx="5.7" ry="2.3" fill="#e6efc4" stroke="#ad9050" stroke-width="1.0625"/>
<ellipse cx="812.1" cy="236.8" rx="5.7" ry="2.3" fill="#e6efc4" stroke="#ad9050" stroke-width="1.0625"/>
<ellipse cx="825.2" cy="236.8" rx="5.7" ry="2.3" fill="#e6efc4" stroke="#ad9050" stroke-width="1.0625"/>
<ellipse cx="838.4" cy="236.8" rx="5.7" ry="2.3" fill="#e6efc4" stroke="#ad9050" stroke-width="1.0625"/>
<ellipse cx="851.6" cy="236.8" rx="5.7" ry="2.3" fill="#e6efc4" stroke="#ad9050" stroke-width="1.0625"/>
<ellipse cx="864.7" cy="236.8" rx="5.7" ry="2.3" fill="#e6efc4" stroke="#ad9050" stroke-width="1.0625"/>
<ellipse cx="877.9" cy="236.8" rx="5.7" ry="2.3" fill="#e6efc4" stroke="#ad9050" stroke-width="1.0625"/>
<ellipse cx="891.1" cy="236.8" rx="5.7" ry="2.3" fill="#e6efc4" stroke="#ad9050" stroke-width="1.0625"/>
<ellipse cx="740.2" cy="241.7" rx="5.7" ry="2.3" fill="#e6efc4" stroke="#ad9050" stroke-width="1.0625"/>
<ellipse cx="753.4" cy="241.7" rx="5.7" ry="2.3" fill="#e6efc4" stroke="#ad9050" stroke-width="1.0625"/>
<ellipse cx="766.6" cy="241.7" rx="5.7" ry="2.3" fill="#e6efc4" stroke="#ad9050" stroke-width="1.0625"/>
<ellipse cx="779.7" cy="241.7" rx="5.7" ry="2.3" fill="#e6efc4" stroke="#ad9050" stroke-width="1.0625"/>
<ellipse cx="792.9" cy="241.7" rx="5.7" ry="2.3" fill="#e6efc4" stroke="#ad9050" stroke-width="1.0625"/>
<ellipse cx="806.1" cy="241.7" rx="5.7" ry="2.3" fill="#e6efc4" stroke="#ad9050" stroke-width="1.0625"/>
<ellipse cx="819.2" cy="241.7" rx="5.7" ry="2.3" fill="#e6efc4" stroke="#ad9050" stroke-width="1.0625"/>
<ellipse cx="832.4" cy="241.7" rx="5.7" ry="2.3" fill="#e6efc4" stroke="#ad9050" stroke-width="1.0625"/>
<ellipse cx="845.6" cy="241.7" rx="5.7" ry="2.3" fill="#e6efc4" stroke="#ad9050" stroke-width="1.0625"/>
<ellipse cx="858.7" cy="241.7" rx="5.7" ry="2.3" fill="#e6efc4" stroke="#ad9050" stroke-width="1.0625"/>
<ellipse cx="871.9" cy="241.7" rx="5.7" ry="2.3" fill="#e6efc4" stroke="#ad9050" stroke-width="1.0625"/>
<ellipse cx="885.1" cy="241.7" rx="5.7" ry="2.3" fill="#e6efc4" stroke="#ad9050" stroke-width="1.0625"/>
<ellipse cx="734.2" cy="246.6" rx="5.7" ry="2.3" fill="#e6efc4" stroke="#ad9050" stroke-width="1.0625"/>
<ellipse cx="747.4" cy="246.6" rx="5.7" ry="2.3" fill="#e6efc4" stroke="#ad9050" stroke-width="1.0625"/>
<ellipse cx="760.6" cy="246.6" rx="5.7" ry="2.3" fill="#e6efc4" stroke="#ad9050" stroke-width="1.0625"/>
<ellipse cx="773.7" cy="246.6" rx="5.7" ry="2.3" fill="#e6efc4" stroke="#ad9050" stroke-width="1.0625"/>
<ellipse cx="786.9" cy="246.6" rx="5.7" ry="2.3" fill="#e6efc4" stroke="#ad9050" stroke-width="1.0625"/>
<ellipse cx="800.1" cy="246.6" rx="5.7" ry="2.3" fill="#e6efc4" stroke="#ad9050" stroke-width="1.0625"/>
<ellipse cx="813.2" cy="246.6" rx="5.7" ry="2.3" fill="#e6efc4" stroke="#ad9050" stroke-width="1.0625"/>
<ellipse cx="826.4" cy="246.6" rx="5.7" ry="2.3" fill="#e6efc4" stroke="#ad9050" stroke-width="1.0625"/>
<ellipse cx="839.5" cy="246.6" rx="5.7" ry="2.3" fill="#e6efc4" stroke="#ad9050" stroke-width="1.0625"/>
<ellipse cx="852.7" cy="246.6" rx="5.7" ry="2.3" fill="#e6efc4" stroke="#ad9050" stroke-width="1.0625"/>
<ellipse cx="865.9" cy="246.6" rx="5.7" ry="2.3" fill="#e6efc4" stroke="#ad9050" stroke-width="1.0625"/>
<ellipse cx="879.0" cy="246.6" rx="5.7" ry="2.3" fill="#e6efc4" stroke="#ad9050" stroke-width="1.0625"/>
<ellipse cx="728.2" cy="251.5" rx="5.7" ry="2.3" fill="#e6efc4" stroke="#ad9050" stroke-width="1.0625"/>
<ellipse cx="741.4" cy="251.5" rx="5.7" ry="2.3" fill="#e6efc4" stroke="#ad9050" stroke-width="1.0625"/>
<ellipse cx="754.5" cy="251.5" rx="5.7" ry="2.3" fill="#e6efc4" stroke="#ad9050" stroke-width="1.0625"/>
<ellipse cx="767.7" cy="251.5" rx="5.7" ry="2.3" fill="#e6efc4" stroke="#ad9050" stroke-width="1.0625"/>
<ellipse cx="780.9" cy="251.5" rx="5.7" ry="2.3" fill="#e6efc4" stroke="#ad9050" stroke-width="1.0625"/>
<ellipse cx="794.0" cy="251.5" rx="5.7" ry="2.3" fill="#e6efc4" stroke="#ad9050" stroke-width="1.0625"/>
<ellipse cx="807.2" cy="251.5" rx="5.7" ry="2.3" fill="#e6efc4" stroke="#ad9050" stroke-width="1.0625"/>
<ellipse cx="820.4" cy="251.5" rx="5.7" ry="2.3" fill="#e6efc4" stroke="#ad9050" stroke-width="1.0625"/>
<ellipse cx="833.5" cy="251.5" rx="5.7" ry="2.3" fill="#e6efc4" stroke="#ad9050" stroke-width="1.0625"/>
<ellipse cx="846.7" cy="251.5" rx="5.7" ry="2.3" fill="#e6efc4" stroke="#ad9050" stroke-width="1.0625"/>
<ellipse cx="859.9" cy="251.5" rx="5.7" ry="2.3" fill="#e6efc4" stroke="#ad9050" stroke-width="1.0625"/>
<ellipse cx="873.0" cy="251.5" rx="5.7" ry="2.3" fill="#e6efc4" stroke="#ad9050" stroke-width="1.0625"/>
<ellipse cx="722.2" cy="256.4" rx="5.7" ry="2.3" fill="#e6efc4" stroke="#ad9050" stroke-width="1.0625"/>
<ellipse cx="735.4" cy="256.4" rx="5.7" ry="2.3" fill="#e6efc4" stroke="#ad9050" stroke-width="1.0625"/>
<ellipse cx="748.5" cy="256.4" rx="5.7" ry="2.3" fill="#e6efc4" stroke="#ad9050" stroke-width="1.0625"/>
<ellipse cx="761.7" cy="256.4" rx="5.7" ry="2.3" fill="#e6efc4" stroke="#ad9050" stroke-width="1.0625"/>
<ellipse cx="774.9" cy="256.4" rx="5.7" ry="2.3" fill="#e6efc4" stroke="#ad9050" stroke-width="1.0625"/>
<ellipse cx="788.0" cy="256.4" rx="5.7" ry="2.3" fill="#e6efc4" stroke="#ad9050" stroke-width="1.0625"/>
<ellipse cx="801.2" cy="256.4" rx="5.7" ry="2.3" fill="#e6efc4" stroke="#ad9050" stroke-width="1.0625"/>
<ellipse cx="814.3" cy="256.4" rx="5.7" ry="2.3" fill="#e6efc4" stroke="#ad9050" stroke-width="1.0625"/>
<ellipse cx="827.5" cy="256.4" rx="5.7" ry="2.3" fill="#e6efc4" stroke="#ad9050" stroke-width="1.0625"/>
<ellipse cx="840.7" cy="256.4" rx="5.7" ry="2.3" fill="#e6efc4" stroke="#ad9050" stroke-width="1.0625"/>
<ellipse cx="853.8" cy="256.4" rx="5.7" ry="2.3" fill="#e6efc4" stroke="#ad9050" stroke-width="1.0625"/>
<ellipse cx="867.0" cy="256.4" rx="5.7" ry="2.3" fill="#e6efc4" stroke="#ad9050" stroke-width="1.0625"/>
<ellipse cx="716.2" cy="261.3" rx="5.7" ry="2.3" fill="#e6efc4" stroke="#ad9050" stroke-width="1.0625"/>
<ellipse cx="729.3" cy="261.3" rx="5.7" ry="2.3" fill="#e6efc4" stroke="#ad9050" stroke-width="1.0625"/>
<ellipse cx="742.5" cy="261.3" rx="5.7" ry="2.3" fill="#e6efc4" stroke="#ad9050" stroke-width="1.0625"/>
<ellipse cx="755.7" cy="261.3" rx="5.7" ry="2.3" fill="#e6efc4" stroke="#ad9050" stroke-width="1.0625"/>
<ellipse cx="768.8" cy="261.3" rx="5.7" ry="2.3" fill="#e6efc4" stroke="#ad9050" stroke-width="1.0625"/>
<ellipse cx="782.0" cy="261.3" rx="5.7" ry="2.3" fill="#e6efc4" stroke="#ad9050" stroke-width="1.0625"/>
<ellipse cx="795.2" cy="261.3" rx="5.7" ry="2.3" fill="#e6efc4" stroke="#ad9050" stroke-width="1.0625"/>
<ellipse cx="808.3" cy="261.3" rx="5.7" ry="2.3" fill="#e6efc4" stroke="#ad9050" stroke-width="1.0625"/>
<ellipse cx="821.5" cy="261.3" rx="5.7" ry="2.3" fill="#e6efc4" stroke="#ad9050" stroke-width="1.0625"/>
<ellipse cx="834.7" cy="261.3" rx="5.7" ry="2.3" fill="#e6efc4" stroke="#ad9050" stroke-width="1.0625"/>
<ellipse cx="847.8" cy="261.3" rx="5.7" ry="2.3" fill="#e6efc4" stroke="#ad9050" stroke-width="1.0625"/>
<ellipse cx="861.0" cy="261.3" rx="5.7" ry="2.3" fill="#e6efc4" stroke="#ad9050" stroke-width="1.0625"/>
<ellipse cx="710.2" cy="266.2" rx="5.7" ry="2.3" fill="#e6efc4" stroke="#ad9050" stroke-width="1.0625"/>
<ellipse cx="723.3" cy="266.2" rx="5.7" ry="2.3" fill="#e6efc4" stroke="#ad9050" stroke-width="1.0625"/>
<ellipse cx="736.5" cy="266.2" rx="5.7" ry="2.3" fill="#e6efc4" stroke="#ad9050" stroke-width="1.0625"/>
<ellipse cx="749.7" cy="266.2" rx="5.7" ry="2.3" fill="#e6efc4" stroke="#ad9050" stroke-width="1.0625"/>
<ellipse cx="762.8" cy="266.2" rx="5.7" ry="2.3" fill="#e6efc4" stroke="#ad9050" stroke-width="1.0625"/>
<ellipse cx="776.0" cy="266.2" rx="5.7" ry="2.3" fill="#e6efc4" stroke="#ad9050" stroke-width="1.0625"/>
<ellipse cx="789.2" cy="266.2" rx="5.7" ry="2.3" fill="#e6efc4" stroke="#ad9050" stroke-width="1.0625"/>
<ellipse cx="802.3" cy="266.2" rx="5.7" ry="2.3" fill="#e6efc4" stroke="#ad9050" stroke-width="1.0625"/>
<ellipse cx="815.5" cy="266.2" rx="5.7" ry="2.3" fill="#e6efc4" stroke="#ad9050" stroke-width="1.0625"/>
<ellipse cx="828.6" cy="266.2" rx="5.7" ry="2.3" fill="#e6efc4" stroke="#ad9050" stroke-width="1.0625"/>
<ellipse cx="841.8" cy="266.2" rx="5.7" ry="2.3" fill="#e6efc4" stroke="#ad9050" stroke-width="1.0625"/>
<ellipse cx="855.0" cy="266.2" rx="5.7" ry="2.3" fill="#e6efc4" stroke="#ad9050" stroke-width="1.0625"/>
<polygon points="620.0,322.5 679.3,277.2 679.3,291.7 620.0,337.0" fill="#fffad2" stroke="#9a6630" stroke-width="1.25" stroke-linejoin="round"/>
<polygon points="451.5,322.5 620.0,322.5 620.0,337.0 451.5,337.0" fill="#fffbdc" stroke="#9a6630" stroke-width="1.25" stroke-linejoin="round"/>
<polygon points="451.5,322.5 510.7,277.2 679.3,277.2 620.0,322.5" fill="#f3e89a" stroke="#9a6630" stroke-width="1.25" stroke-linejoin="round"/>
<polygon points="457.4,320.9 513.1,278.3 676.2,278.3 620.5,320.9" fill="#f1e491" stroke="#9a6630" stroke-width="1.0" stroke-linejoin="round"/>
<path d="M623.2,317.8 v9.0 q3.1,0.9 6.2,-2.0 v-9.0" fill="#e6efc4" fill-opacity="0.5" stroke="#c9c294" stroke-width="0.875"/>
<path d="M629.6,312.9 v9.0 q3.1,0.9 6.2,-2.0 v-9.0" fill="#e6efc4" fill-opacity="0.5" stroke="#c9c294" stroke-width="0.875"/>
<path d="M636.1,308.0 v9.0 q3.1,0.9 6.2,-2.0 v-9.0" fill="#e6efc4" fill-opacity="0.5" stroke="#c9c294" stroke-width="0.875"/>
<path d="M642.5,303.1 v9.0 q3.1,0.9 6.2,-2.0 v-9.0" fill="#e6efc4" fill-opacity="0.5" stroke="#c9c294" stroke-width="0.875"/>
<path d="M648.9,298.2 v9.0 q3.1,0.9 6.2,-2.0 v-9.0" fill="#e6efc4" fill-opacity="0.5" stroke="#c9c294" stroke-width="0.875"/>
<path d="M655.3,293.2 v9.0 q3.1,0.9 6.2,-2.0 v-9.0" fill="#e6efc4" fill-opacity="0.5" stroke="#c9c294" stroke-width="0.875"/>
<path d="M661.7,288.3 v9.0 q3.1,0.9 6.2,-2.0 v-9.0" fill="#e6efc4" fill-opacity="0.5" stroke="#c9c294" stroke-width="0.875"/>
<path d="M668.1,283.4 v9.0 q3.1,0.9 6.2,-2.0 v-9.0" fill="#e6efc4" fill-opacity="0.5" stroke="#c9c294" stroke-width="0.875"/>
<path d="M466.0,316.8 v15.7 a5.6,2.0 0 0 0 11.3,0 v-15.7" fill="#e6efc4" fill-opacity="0.55" stroke="#c9c294" stroke-width="1.0"/>
<path d="M479.0,316.8 v15.7 a5.6,2.0 0 0 0 11.3,0 v-15.7" fill="#e6efc4" fill-opacity="0.55" stroke="#c9c294" stroke-width="1.0"/>
<path d="M492.0,316.8 v15.7 a5.6,2.0 0 0 0 11.3,0 v-15.7" fill="#e6efc4" fill-opacity="0.55" stroke="#c9c294" stroke-width="1.0"/>
<path d="M505.0,316.8 v15.7 a5.6,2.0 0 0 0 11.3,0 v-15.7" fill="#e6efc4" fill-opacity="0.55" stroke="#c9c294" stroke-width="1.0"/>
<path d="M518.1,316.8 v15.7 a5.6,2.0 0 0 0 11.3,0 v-15.7" fill="#e6efc4" fill-opacity="0.55" stroke="#c9c294" stroke-width="1.0"/>
<path d="M531.1,316.8 v15.7 a5.6,2.0 0 0 0 11.3,0 v-15.7" fill="#e6efc4" fill-opacity="0.55" stroke="#c9c294" stroke-width="1.0"/>
<path d="M544.1,316.8 v15.7 a5.6,2.0 0 0 0 11.3,0 v-15.7" fill="#e6efc4" fill-opacity="0.55" stroke="#c9c294" stroke-width="1.0"/>
<path d="M557.1,316.8 v15.7 a5.6,2.0 0 0 0 11.3,0 v-15.7" fill="#e6efc4" fill-opacity="0.55" stroke="#c9c294" stroke-width="1.0"/>
<path d="M570.2,316.8 v15.7 a5.6,2.0 0 0 0 11.3,0 v-15.7" fill="#e6efc4" fill-opacity="0.55" stroke="#c9c294" stroke-width="1.0"/>
<path d="M583.2,316.8 v15.7 a5.6,2.0 0 0 0 11.3,0 v-15.7" fill="#e6efc4" fill-opacity="0.55" stroke="#c9c294" stroke-width="1.0"/>
<path d="M596.2,316.8 v15.7 a5.6,2.0 0 0 0 11.3,0 v-15.7" fill="#e6efc4" fill-opacity="0.55" stroke="#c9c294" stroke-width="1.0"/>
<path d="M609.2,316.8 v15.7 a5.6,2.0 0 0 0 11.3,0 v-15.7" fill="#e6efc4" fill-opacity="0.55" stroke="#c9c294" stroke-width="1.0"/>
<line x1="451.5" y1="322.5" x2="620.0" y2="322.5" stroke="#9a6630" stroke-width="1.25"/>
<ellipse cx="516.5" cy="282.4" rx="5.6" ry="2.3" fill="#e6efc4" stroke="#ad9050" stroke-width="1.0625"/>
<ellipse cx="529.5" cy="282.4" rx="5.6" ry="2.3" fill="#e6efc4" stroke="#ad9050" stroke-width="1.0625"/>
<ellipse cx="542.6" cy="282.4" rx="5.6" ry="2.3" fill="#e6efc4" stroke="#ad9050" stroke-width="1.0625"/>
<ellipse cx="555.6" cy="282.4" rx="5.6" ry="2.3" fill="#e6efc4" stroke="#ad9050" stroke-width="1.0625"/>
<ellipse cx="568.6" cy="282.4" rx="5.6" ry="2.3" fill="#e6efc4" stroke="#ad9050" stroke-width="1.0625"/>
<ellipse cx="581.6" cy="282.4" rx="5.6" ry="2.3" fill="#e6efc4" stroke="#ad9050" stroke-width="1.0625"/>
<ellipse cx="594.7" cy="282.4" rx="5.6" ry="2.3" fill="#e6efc4" stroke="#ad9050" stroke-width="1.0625"/>
<ellipse cx="607.7" cy="282.4" rx="5.6" ry="2.3" fill="#e6efc4" stroke="#ad9050" stroke-width="1.0625"/>
<ellipse cx="620.7" cy="282.4" rx="5.6" ry="2.3" fill="#e6efc4" stroke="#ad9050" stroke-width="1.0625"/>
<ellipse cx="633.7" cy="282.4" rx="5.6" ry="2.3" fill="#e6efc4" stroke="#ad9050" stroke-width="1.0625"/>
<ellipse cx="646.8" cy="282.4" rx="5.6" ry="2.3" fill="#e6efc4" stroke="#ad9050" stroke-width="1.0625"/>
<ellipse cx="659.8" cy="282.4" rx="5.6" ry="2.3" fill="#e6efc4" stroke="#ad9050" stroke-width="1.0625"/>
<ellipse cx="510.1" cy="287.3" rx="5.6" ry="2.3" fill="#e6efc4" stroke="#ad9050" stroke-width="1.0625"/>
<ellipse cx="523.1" cy="287.3" rx="5.6" ry="2.3" fill="#e6efc4" stroke="#ad9050" stroke-width="1.0625"/>
<ellipse cx="536.2" cy="287.3" rx="5.6" ry="2.3" fill="#e6efc4" stroke="#ad9050" stroke-width="1.0625"/>
<ellipse cx="549.2" cy="287.3" rx="5.6" ry="2.3" fill="#e6efc4" stroke="#ad9050" stroke-width="1.0625"/>
<ellipse cx="562.2" cy="287.3" rx="5.6" ry="2.3" fill="#e6efc4" stroke="#ad9050" stroke-width="1.0625"/>
<ellipse cx="575.2" cy="287.3" rx="5.6" ry="2.3" fill="#e6efc4" stroke="#ad9050" stroke-width="1.0625"/>
<ellipse cx="588.3" cy="287.3" rx="5.6" ry="2.3" fill="#e6efc4" stroke="#ad9050" stroke-width="1.0625"/>
<ellipse cx="601.3" cy="287.3" rx="5.6" ry="2.3" fill="#e6efc4" stroke="#ad9050" stroke-width="1.0625"/>
<ellipse cx="614.3" cy="287.3" rx="5.6" ry="2.3" fill="#e6efc4" stroke="#ad9050" stroke-width="1.0625"/>
<ellipse cx="627.3" cy="287.3" rx="5.6" ry="2.3" fill="#e6efc4" stroke="#ad9050" stroke-width="1.0625"/>
<ellipse cx="640.4" cy="287.3" rx="5.6" ry="2.3" fill="#e6efc4" stroke="#ad9050" stroke-width="1.0625"/>
<ellipse cx="653.4" cy="287.3" rx="5.6" ry="2.3" fill="#e6efc4" stroke="#ad9050" stroke-width="1.0625"/>
<ellipse cx="503.7" cy="292.2" rx="5.6" ry="2.3" fill="#e6efc4" stroke="#ad9050" stroke-width="1.0625"/>
<ellipse cx="516.7" cy="292.2" rx="5.6" ry="2.3" fill="#e6efc4" stroke="#ad9050" stroke-width="1.0625"/>
<ellipse cx="529.7" cy="292.2" rx="5.6" ry="2.3" fill="#e6efc4" stroke="#ad9050" stroke-width="1.0625"/>
<ellipse cx="542.8" cy="292.2" rx="5.6" ry="2.3" fill="#e6efc4" stroke="#ad9050" stroke-width="1.0625"/>
<ellipse cx="555.8" cy="292.2" rx="5.6" ry="2.3" fill="#e6efc4" stroke="#ad9050" stroke-width="1.0625"/>
<ellipse cx="568.8" cy="292.2" rx="5.6" ry="2.3" fill="#e6efc4" stroke="#ad9050" stroke-width="1.0625"/>
<ellipse cx="581.8" cy="292.2" rx="5.6" ry="2.3" fill="#e6efc4" stroke="#ad9050" stroke-width="1.0625"/>
<ellipse cx="594.9" cy="292.2" rx="5.6" ry="2.3" fill="#e6efc4" stroke="#ad9050" stroke-width="1.0625"/>
<ellipse cx="607.9" cy="292.2" rx="5.6" ry="2.3" fill="#e6efc4" stroke="#ad9050" stroke-width="1.0625"/>
<ellipse cx="620.9" cy="292.2" rx="5.6" ry="2.3" fill="#e6efc4" stroke="#ad9050" stroke-width="1.0625"/>
<ellipse cx="633.9" cy="292.2" rx="5.6" ry="2.3" fill="#e6efc4" stroke="#ad9050" stroke-width="1.0625"/>
<ellipse cx="647.0" cy="292.2" rx="5.6" ry="2.3" fill="#e6efc4" stroke="#ad9050" stroke-width="1.0625"/>
<ellipse cx="497.3" cy="297.2" rx="5.6" ry="2.3" fill="#e6efc4" stroke="#ad9050" stroke-width="1.0625"/>
<ellipse cx="510.3" cy="297.2" rx="5.6" ry="2.3" fill="#e6efc4" stroke="#ad9050" stroke-width="1.0625"/>
<ellipse cx="523.3" cy="297.2" rx="5.6" ry="2.3" fill="#e6efc4" stroke="#ad9050" stroke-width="1.0625"/>
<ellipse cx="536.3" cy="297.2" rx="5.6" ry="2.3" fill="#e6efc4" stroke="#ad9050" stroke-width="1.0625"/>
<ellipse cx="549.4" cy="297.2" rx="5.6" ry="2.3" fill="#e6efc4" stroke="#ad9050" stroke-width="1.0625"/>
<ellipse cx="562.4" cy="297.2" rx="5.6" ry="2.3" fill="#e6efc4" stroke="#ad9050" stroke-width="1.0625"/>
<ellipse cx="575.4" cy="297.2" rx="5.6" ry="2.3" fill="#e6efc4" stroke="#ad9050" stroke-width="1.0625"/>
<ellipse cx="588.4" cy="297.2" rx="5.6" ry="2.3" fill="#e6efc4" stroke="#ad9050" stroke-width="1.0625"/>
<ellipse cx="601.5" cy="297.2" rx="5.6" ry="2.3" fill="#e6efc4" stroke="#ad9050" stroke-width="1.0625"/>
<ellipse cx="614.5" cy="297.2" rx="5.6" ry="2.3" fill="#e6efc4" stroke="#ad9050" stroke-width="1.0625"/>
<ellipse cx="627.5" cy="297.2" rx="5.6" ry="2.3" fill="#e6efc4" stroke="#ad9050" stroke-width="1.0625"/>
<ellipse cx="640.5" cy="297.2" rx="5.6" ry="2.3" fill="#e6efc4" stroke="#ad9050" stroke-width="1.0625"/>
<ellipse cx="490.8" cy="302.1" rx="5.6" ry="2.3" fill="#e6efc4" stroke="#ad9050" stroke-width="1.0625"/>
<ellipse cx="503.9" cy="302.1" rx="5.6" ry="2.3" fill="#e6efc4" stroke="#ad9050" stroke-width="1.0625"/>
<ellipse cx="516.9" cy="302.1" rx="5.6" ry="2.3" fill="#e6efc4" stroke="#ad9050" stroke-width="1.0625"/>
<ellipse cx="529.9" cy="302.1" rx="5.6" ry="2.3" fill="#e6efc4" stroke="#ad9050" stroke-width="1.0625"/>
<ellipse cx="542.9" cy="302.1" rx="5.6" ry="2.3" fill="#e6efc4" stroke="#ad9050" stroke-width="1.0625"/>
<ellipse cx="556.0" cy="302.1" rx="5.6" ry="2.3" fill="#e6efc4" stroke="#ad9050" stroke-width="1.0625"/>
<ellipse cx="569.0" cy="302.1" rx="5.6" ry="2.3" fill="#e6efc4" stroke="#ad9050" stroke-width="1.0625"/>
<ellipse cx="582.0" cy="302.1" rx="5.6" ry="2.3" fill="#e6efc4" stroke="#ad9050" stroke-width="1.0625"/>
<ellipse cx="595.0" cy="302.1" rx="5.6" ry="2.3" fill="#e6efc4" stroke="#ad9050" stroke-width="1.0625"/>
<ellipse cx="608.1" cy="302.1" rx="5.6" ry="2.3" fill="#e6efc4" stroke="#ad9050" stroke-width="1.0625"/>
<ellipse cx="621.1" cy="302.1" rx="5.6" ry="2.3" fill="#e6efc4" stroke="#ad9050" stroke-width="1.0625"/>
<ellipse cx="634.1" cy="302.1" rx="5.6" ry="2.3" fill="#e6efc4" stroke="#ad9050" stroke-width="1.0625"/>
<ellipse cx="484.4" cy="307.0" rx="5.6" ry="2.3" fill="#e6efc4" stroke="#ad9050" stroke-width="1.0625"/>
<ellipse cx="497.5" cy="307.0" rx="5.6" ry="2.3" fill="#e6efc4" stroke="#ad9050" stroke-width="1.0625"/>
<ellipse cx="510.5" cy="307.0" rx="5.6" ry="2.3" fill="#e6efc4" stroke="#ad9050" stroke-width="1.0625"/>
<ellipse cx="523.5" cy="307.0" rx="5.6" ry="2.3" fill="#e6efc4" stroke="#ad9050" stroke-width="1.0625"/>
<ellipse cx="536.5" cy="307.0" rx="5.6" ry="2.3" fill="#e6efc4" stroke="#ad9050" stroke-width="1.0625"/>
<ellipse cx="549.6" cy="307.0" rx="5.6" ry="2.3" fill="#e6efc4" stroke="#ad9050" stroke-width="1.0625"/>
<ellipse cx="562.6" cy="307.0" rx="5.6" ry="2.3" fill="#e6efc4" stroke="#ad9050" stroke-width="1.0625"/>
<ellipse cx="575.6" cy="307.0" rx="5.6" ry="2.3" fill="#e6efc4" stroke="#ad9050" stroke-width="1.0625"/>
<ellipse cx="588.6" cy="307.0" rx="5.6" ry="2.3" fill="#e6efc4" stroke="#ad9050" stroke-width="1.0625"/>
<ellipse cx="601.7" cy="307.0" rx="5.6" ry="2.3" fill="#e6efc4" stroke="#ad9050" stroke-width="1.0625"/>
<ellipse cx="614.7" cy="307.0" rx="5.6" ry="2.3" fill="#e6efc4" stroke="#ad9050" stroke-width="1.0625"/>
<ellipse cx="627.7" cy="307.0" rx="5.6" ry="2.3" fill="#e6efc4" stroke="#ad9050" stroke-width="1.0625"/>
<ellipse cx="478.0" cy="311.9" rx="5.6" ry="2.3" fill="#e6efc4" stroke="#ad9050" stroke-width="1.0625"/>
<ellipse cx="491.0" cy="311.9" rx="5.6" ry="2.3" fill="#e6efc4" stroke="#ad9050" stroke-width="1.0625"/>
<ellipse cx="504.1" cy="311.9" rx="5.6" ry="2.3" fill="#e6efc4" stroke="#ad9050" stroke-width="1.0625"/>
<ellipse cx="517.1" cy="311.9" rx="5.6" ry="2.3" fill="#e6efc4" stroke="#ad9050" stroke-width="1.0625"/>
<ellipse cx="530.1" cy="311.9" rx="5.6" ry="2.3" fill="#e6efc4" stroke="#ad9050" stroke-width="1.0625"/>
<ellipse cx="543.1" cy="311.9" rx="5.6" ry="2.3" fill="#e6efc4" stroke="#ad9050" stroke-width="1.0625"/>
<ellipse cx="556.2" cy="311.9" rx="5.6" ry="2.3" fill="#e6efc4" stroke="#ad9050" stroke-width="1.0625"/>
<ellipse cx="569.2" cy="311.9" rx="5.6" ry="2.3" fill="#e6efc4" stroke="#ad9050" stroke-width="1.0625"/>
<ellipse cx="582.2" cy="311.9" rx="5.6" ry="2.3" fill="#e6efc4" stroke="#ad9050" stroke-width="1.0625"/>
<ellipse cx="595.2" cy="311.9" rx="5.6" ry="2.3" fill="#e6efc4" stroke="#ad9050" stroke-width="1.0625"/>
<ellipse cx="608.3" cy="311.9" rx="5.6" ry="2.3" fill="#e6efc4" stroke="#ad9050" stroke-width="1.0625"/>
<ellipse cx="621.3" cy="311.9" rx="5.6" ry="2.3" fill="#e6efc4" stroke="#ad9050" stroke-width="1.0625"/>
<ellipse cx="471.6" cy="316.8" rx="5.6" ry="2.3" fill="#e6efc4" stroke="#ad9050" stroke-width="1.0625"/>
<ellipse cx="484.6" cy="316.8" rx="5.6" ry="2.3" fill="#e6efc4" stroke="#ad9050" stroke-width="1.0625"/>
<ellipse cx="497.6" cy="316.8" rx="5.6" ry="2.3" fill="#e6efc4" stroke="#ad9050" stroke-width="1.0625"/>
<ellipse cx="510.7" cy="316.8" rx="5.6" ry="2.3" fill="#e6efc4" stroke="#ad9050" stroke-width="1.0625"/>
<ellipse cx="523.7" cy="316.8" rx="5.6" ry="2.3" fill="#e6efc4" stroke="#ad9050" stroke-width="1.0625"/>
<ellipse cx="536.7" cy="316.8" rx="5.6" ry="2.3" fill="#e6efc4" stroke="#ad9050" stroke-width="1.0625"/>
<ellipse cx="549.7" cy="316.8" rx="5.6" ry="2.3" fill="#e6efc4" stroke="#ad9050" stroke-width="1.0625"/>
<ellipse cx="562.8" cy="316.8" rx="5.6" ry="2.3" fill="#e6efc4" stroke="#ad9050" stroke-width="1.0625"/>
<ellipse cx="575.8" cy="316.8" rx="5.6" ry="2.3" fill="#e6efc4" stroke="#ad9050" stroke-width="1.0625"/>
<ellipse cx="588.8" cy="316.8" rx="5.6" ry="2.3" fill="#e6efc4" stroke="#ad9050" stroke-width="1.0625"/>
<ellipse cx="601.8" cy="316.8" rx="5.6" ry="2.3" fill="#e6efc4" stroke="#ad9050" stroke-width="1.0625"/>
<ellipse cx="614.9" cy="316.8" rx="5.6" ry="2.3" fill="#e6efc4" stroke="#ad9050" stroke-width="1.0625"/>
<polygon points="797.0,322.5 855.2,277.2 855.2,291.7 797.0,337.0" fill="#fffad2" stroke="#9a6630" stroke-width="1.25" stroke-linejoin="round"/>
<polygon points="626.7,322.5 797.0,322.5 797.0,337.0 626.7,337.0" fill="#fffbdc" stroke="#9a6630" stroke-width="1.25" stroke-linejoin="round"/>
<polygon points="626.7,322.5 684.8,277.2 855.2,277.2 797.0,322.5" fill="#f3e89a" stroke="#9a6630" stroke-width="1.25" stroke-linejoin="round"/>
<polygon points="632.6,320.9 687.2,278.3 852.1,278.3 797.4,320.9" fill="#f1e491" stroke="#9a6630" stroke-width="1.0" stroke-linejoin="round"/>
<path d="M800.0,317.8 v9.0 q3.1,0.9 6.3,-2.1 v-9.0" fill="#e6efc4" fill-opacity="0.5" stroke="#c9c294" stroke-width="0.875"/>
<path d="M806.3,312.9 v9.0 q3.1,0.9 6.3,-2.1 v-9.0" fill="#e6efc4" fill-opacity="0.5" stroke="#c9c294" stroke-width="0.875"/>
<path d="M812.6,308.0 v9.0 q3.1,0.9 6.3,-2.1 v-9.0" fill="#e6efc4" fill-opacity="0.5" stroke="#c9c294" stroke-width="0.875"/>
<path d="M818.9,303.1 v9.0 q3.1,0.9 6.3,-2.1 v-9.0" fill="#e6efc4" fill-opacity="0.5" stroke="#c9c294" stroke-width="0.875"/>
<path d="M825.2,298.2 v9.0 q3.1,0.9 6.3,-2.1 v-9.0" fill="#e6efc4" fill-opacity="0.5" stroke="#c9c294" stroke-width="0.875"/>
<path d="M831.5,293.2 v9.0 q3.1,0.9 6.3,-2.1 v-9.0" fill="#e6efc4" fill-opacity="0.5" stroke="#c9c294" stroke-width="0.875"/>
<path d="M837.8,288.3 v9.0 q3.1,0.9 6.3,-2.1 v-9.0" fill="#e6efc4" fill-opacity="0.5" stroke="#c9c294" stroke-width="0.875"/>
<path d="M844.1,283.4 v9.0 q3.1,0.9 6.3,-2.1 v-9.0" fill="#e6efc4" fill-opacity="0.5" stroke="#c9c294" stroke-width="0.875"/>
<path d="M641.1,316.8 v15.6 a5.7,2.1 0 0 0 11.4,0 v-15.6" fill="#e6efc4" fill-opacity="0.55" stroke="#c9c294" stroke-width="1.0"/>
<path d="M654.3,316.8 v15.6 a5.7,2.1 0 0 0 11.4,0 v-15.6" fill="#e6efc4" fill-opacity="0.55" stroke="#c9c294" stroke-width="1.0"/>
<path d="M667.4,316.8 v15.6 a5.7,2.1 0 0 0 11.4,0 v-15.6" fill="#e6efc4" fill-opacity="0.55" stroke="#c9c294" stroke-width="1.0"/>
<path d="M680.6,316.8 v15.6 a5.7,2.1 0 0 0 11.4,0 v-15.6" fill="#e6efc4" fill-opacity="0.55" stroke="#c9c294" stroke-width="1.0"/>
<path d="M693.7,316.8 v15.6 a5.7,2.1 0 0 0 11.4,0 v-15.6" fill="#e6efc4" fill-opacity="0.55" stroke="#c9c294" stroke-width="1.0"/>
<path d="M706.9,316.8 v15.6 a5.7,2.1 0 0 0 11.4,0 v-15.6" fill="#e6efc4" fill-opacity="0.55" stroke="#c9c294" stroke-width="1.0"/>
<path d="M720.1,316.8 v15.6 a5.7,2.1 0 0 0 11.4,0 v-15.6" fill="#e6efc4" fill-opacity="0.55" stroke="#c9c294" stroke-width="1.0"/>
<path d="M733.2,316.8 v15.6 a5.7,2.1 0 0 0 11.4,0 v-15.6" fill="#e6efc4" fill-opacity="0.55" stroke="#c9c294" stroke-width="1.0"/>
<path d="M746.4,316.8 v15.6 a5.7,2.1 0 0 0 11.4,0 v-15.6" fill="#e6efc4" fill-opacity="0.55" stroke="#c9c294" stroke-width="1.0"/>
<path d="M759.6,316.8 v15.6 a5.7,2.1 0 0 0 11.4,0 v-15.6" fill="#e6efc4" fill-opacity="0.55" stroke="#c9c294" stroke-width="1.0"/>
<path d="M772.7,316.8 v15.6 a5.7,2.1 0 0 0 11.4,0 v-15.6" fill="#e6efc4" fill-opacity="0.55" stroke="#c9c294" stroke-width="1.0"/>
<path d="M785.9,316.8 v15.6 a5.7,2.1 0 0 0 11.4,0 v-15.6" fill="#e6efc4" fill-opacity="0.55" stroke="#c9c294" stroke-width="1.0"/>
<line x1="626.7" y1="322.5" x2="797.0" y2="322.5" stroke="#9a6630" stroke-width="1.25"/>
<ellipse cx="690.9" cy="282.4" rx="5.7" ry="2.3" fill="#e6efc4" stroke="#ad9050" stroke-width="1.0625"/>
<ellipse cx="704.0" cy="282.4" rx="5.7" ry="2.3" fill="#e6efc4" stroke="#ad9050" stroke-width="1.0625"/>
<ellipse cx="717.2" cy="282.4" rx="5.7" ry="2.3" fill="#e6efc4" stroke="#ad9050" stroke-width="1.0625"/>
<ellipse cx="730.4" cy="282.4" rx="5.7" ry="2.3" fill="#e6efc4" stroke="#ad9050" stroke-width="1.0625"/>
<ellipse cx="743.5" cy="282.4" rx="5.7" ry="2.3" fill="#e6efc4" stroke="#ad9050" stroke-width="1.0625"/>
<ellipse cx="756.7" cy="282.4" rx="5.7" ry="2.3" fill="#e6efc4" stroke="#ad9050" stroke-width="1.0625"/>
<ellipse cx="769.9" cy="282.4" rx="5.7" ry="2.3" fill="#e6efc4" stroke="#ad9050" stroke-width="1.0625"/>
<ellipse cx="783.0" cy="282.4" rx="5.7" ry="2.3" fill="#e6efc4" stroke="#ad9050" stroke-width="1.0625"/>
<ellipse cx="796.2" cy="282.4" rx="5.7" ry="2.3" fill="#e6efc4" stroke="#ad9050" stroke-width="1.0625"/>
<ellipse cx="809.4" cy="282.4" rx="5.7" ry="2.3" fill="#e6efc4" stroke="#ad9050" stroke-width="1.0625"/>
<ellipse cx="822.5" cy="282.4" rx="5.7" ry="2.3" fill="#e6efc4" stroke="#ad9050" stroke-width="1.0625"/>
<ellipse cx="835.7" cy="282.4" rx="5.7" ry="2.3" fill="#e6efc4" stroke="#ad9050" stroke-width="1.0625"/>
<ellipse cx="684.6" cy="287.3" rx="5.7" ry="2.3" fill="#e6efc4" stroke="#ad9050" stroke-width="1.0625"/>
<ellipse cx="697.7" cy="287.3" rx="5.7" ry="2.3" fill="#e6efc4" stroke="#ad9050" stroke-width="1.0625"/>
<ellipse cx="710.9" cy="287.3" rx="5.7" ry="2.3" fill="#e6efc4" stroke="#ad9050" stroke-width="1.0625"/>
<ellipse cx="724.1" cy="287.3" rx="5.7" ry="2.3" fill="#e6efc4" stroke="#ad9050" stroke-width="1.0625"/>
<ellipse cx="737.2" cy="287.3" rx="5.7" ry="2.3" fill="#e6efc4" stroke="#ad9050" stroke-width="1.0625"/>
<ellipse cx="750.4" cy="287.3" rx="5.7" ry="2.3" fill="#e6efc4" stroke="#ad9050" stroke-width="1.0625"/>
<ellipse cx="763.6" cy="287.3" rx="5.7" ry="2.3" fill="#e6efc4" stroke="#ad9050" stroke-width="1.0625"/>
<ellipse cx="776.7" cy="287.3" rx="5.7" ry="2.3" fill="#e6efc4" stroke="#ad9050" stroke-width="1.0625"/>
<ellipse cx="789.9" cy="287.3" rx="5.7" ry="2.3" fill="#e6efc4" stroke="#ad9050" stroke-width="1.0625"/>
<ellipse cx="803.1" cy="287.3" rx="5.7" ry="2.3" fill="#e6efc4" stroke="#ad9050" stroke-width="1.0625"/>
<ellipse cx="816.2" cy="287.3" rx="5.7" ry="2.3" fill="#e6efc4" stroke="#ad9050" stroke-width="1.0625"/>
<ellipse cx="829.4" cy="287.3" rx="5.7" ry="2.3" fill="#e6efc4" stroke="#ad9050" stroke-width="1.0625"/>
<ellipse cx="678.3" cy="292.2" rx="5.7" ry="2.3" fill="#e6efc4" stroke="#ad9050" stroke-width="1.0625"/>
<ellipse cx="691.4" cy="292.2" rx="5.7" ry="2.3" fill="#e6efc4" stroke="#ad9050" stroke-width="1.0625"/>
<ellipse cx="704.6" cy="292.2" rx="5.7" ry="2.3" fill="#e6efc4" stroke="#ad9050" stroke-width="1.0625"/>
<ellipse cx="717.8" cy="292.2" rx="5.7" ry="2.3" fill="#e6efc4" stroke="#ad9050" stroke-width="1.0625"/>
<ellipse cx="730.9" cy="292.2" rx="5.7" ry="2.3" fill="#e6efc4" stroke="#ad9050" stroke-width="1.0625"/>
<ellipse cx="744.1" cy="292.2" rx="5.7" ry="2.3" fill="#e6efc4" stroke="#ad9050" stroke-width="1.0625"/>
<ellipse cx="757.3" cy="292.2" rx="5.7" ry="2.3" fill="#e6efc4" stroke="#ad9050" stroke-width="1.0625"/>
<ellipse cx="770.4" cy="292.2" rx="5.7" ry="2.3" fill="#e6efc4" stroke="#ad9050" stroke-width="1.0625"/>
<ellipse cx="783.6" cy="292.2" rx="5.7" ry="2.3" fill="#e6efc4" stroke="#ad9050" stroke-width="1.0625"/>
<ellipse cx="796.8" cy="292.2" rx="5.7" ry="2.3" fill="#e6efc4" stroke="#ad9050" stroke-width="1.0625"/>
<ellipse cx="809.9" cy="292.2" rx="5.7" ry="2.3" fill="#e6efc4" stroke="#ad9050" stroke-width="1.0625"/>
<ellipse cx="823.1" cy="292.2" rx="5.7" ry="2.3" fill="#e6efc4" stroke="#ad9050" stroke-width="1.0625"/>
<ellipse cx="672.0" cy="297.2" rx="5.7" ry="2.3" fill="#e6efc4" stroke="#ad9050" stroke-width="1.0625"/>
<ellipse cx="685.1" cy="297.2" rx="5.7" ry="2.3" fill="#e6efc4" stroke="#ad9050" stroke-width="1.0625"/>
<ellipse cx="698.3" cy="297.2" rx="5.7" ry="2.3" fill="#e6efc4" stroke="#ad9050" stroke-width="1.0625"/>
<ellipse cx="711.5" cy="297.2" rx="5.7" ry="2.3" fill="#e6efc4" stroke="#ad9050" stroke-width="1.0625"/>
<ellipse cx="724.6" cy="297.2" rx="5.7" ry="2.3" fill="#e6efc4" stroke="#ad9050" stroke-width="1.0625"/>
<ellipse cx="737.8" cy="297.2" rx="5.7" ry="2.3" fill="#e6efc4" stroke="#ad9050" stroke-width="1.0625"/>
<ellipse cx="751.0" cy="297.2" rx="5.7" ry="2.3" fill="#e6efc4" stroke="#ad9050" stroke-width="1.0625"/>
<ellipse cx="764.1" cy="297.2" rx="5.7" ry="2.3" fill="#e6efc4" stroke="#ad9050" stroke-width="1.0625"/>
<ellipse cx="777.3" cy="297.2" rx="5.7" ry="2.3" fill="#e6efc4" stroke="#ad9050" stroke-width="1.0625"/>
<ellipse cx="790.5" cy="297.2" rx="5.7" ry="2.3" fill="#e6efc4" stroke="#ad9050" stroke-width="1.0625"/>
<ellipse cx="803.6" cy="297.2" rx="5.7" ry="2.3" fill="#e6efc4" stroke="#ad9050" stroke-width="1.0625"/>
<ellipse cx="816.8" cy="297.2" rx="5.7" ry="2.3" fill="#e6efc4" stroke="#ad9050" stroke-width="1.0625"/>
<ellipse cx="665.7" cy="302.1" rx="5.7" ry="2.3" fill="#e6efc4" stroke="#ad9050" stroke-width="1.0625"/>
<ellipse cx="678.9" cy="302.1" rx="5.7" ry="2.3" fill="#e6efc4" stroke="#ad9050" stroke-width="1.0625"/>
<ellipse cx="692.0" cy="302.1" rx="5.7" ry="2.3" fill="#e6efc4" stroke="#ad9050" stroke-width="1.0625"/>
<ellipse cx="705.2" cy="302.1" rx="5.7" ry="2.3" fill="#e6efc4" stroke="#ad9050" stroke-width="1.0625"/>
<ellipse cx="718.3" cy="302.1" rx="5.7" ry="2.3" fill="#e6efc4" stroke="#ad9050" stroke-width="1.0625"/>
<ellipse cx="731.5" cy="302.1" rx="5.7" ry="2.3" fill="#e6efc4" stroke="#ad9050" stroke-width="1.0625"/>
<ellipse cx="744.7" cy="302.1" rx="5.7" ry="2.3" fill="#e6efc4" stroke="#ad9050" stroke-width="1.0625"/>
<ellipse cx="757.8" cy="302.1" rx="5.7" ry="2.3" fill="#e6efc4" stroke="#ad9050" stroke-width="1.0625"/>
<ellipse cx="771.0" cy="302.1" rx="5.7" ry="2.3" fill="#e6efc4" stroke="#ad9050" stroke-width="1.0625"/>
<ellipse cx="784.2" cy="302.1" rx="5.7" ry="2.3" fill="#e6efc4" stroke="#ad9050" stroke-width="1.0625"/>
<ellipse cx="797.3" cy="302.1" rx="5.7" ry="2.3" fill="#e6efc4" stroke="#ad9050" stroke-width="1.0625"/>
<ellipse cx="810.5" cy="302.1" rx="5.7" ry="2.3" fill="#e6efc4" stroke="#ad9050" stroke-width="1.0625"/>
<ellipse cx="659.4" cy="307.0" rx="5.7" ry="2.3" fill="#e6efc4" stroke="#ad9050" stroke-width="1.0625"/>
<ellipse cx="672.6" cy="307.0" rx="5.7" ry="2.3" fill="#e6efc4" stroke="#ad9050" stroke-width="1.0625"/>
<ellipse cx="685.7" cy="307.0" rx="5.7" ry="2.3" fill="#e6efc4" stroke="#ad9050" stroke-width="1.0625"/>
<ellipse cx="698.9" cy="307.0" rx="5.7" ry="2.3" fill="#e6efc4" stroke="#ad9050" stroke-width="1.0625"/>
<ellipse cx="712.0" cy="307.0" rx="5.7" ry="2.3" fill="#e6efc4" stroke="#ad9050" stroke-width="1.0625"/>
<ellipse cx="725.2" cy="307.0" rx="5.7" ry="2.3" fill="#e6efc4" stroke="#ad9050" stroke-width="1.0625"/>
<ellipse cx="738.4" cy="307.0" rx="5.7" ry="2.3" fill="#e6efc4" stroke="#ad9050" stroke-width="1.0625"/>
<ellipse cx="751.5" cy="307.0" rx="5.7" ry="2.3" fill="#e6efc4" stroke="#ad9050" stroke-width="1.0625"/>
<ellipse cx="764.7" cy="307.0" rx="5.7" ry="2.3" fill="#e6efc4" stroke="#ad9050" stroke-width="1.0625"/>
<ellipse cx="777.9" cy="307.0" rx="5.7" ry="2.3" fill="#e6efc4" stroke="#ad9050" stroke-width="1.0625"/>
<ellipse cx="791.0" cy="307.0" rx="5.7" ry="2.3" fill="#e6efc4" stroke="#ad9050" stroke-width="1.0625"/>
<ellipse cx="804.2" cy="307.0" rx="5.7" ry="2.3" fill="#e6efc4" stroke="#ad9050" stroke-width="1.0625"/>
<ellipse cx="653.1" cy="311.9" rx="5.7" ry="2.3" fill="#e6efc4" stroke="#ad9050" stroke-width="1.0625"/>
<ellipse cx="666.3" cy="311.9" rx="5.7" ry="2.3" fill="#e6efc4" stroke="#ad9050" stroke-width="1.0625"/>
<ellipse cx="679.4" cy="311.9" rx="5.7" ry="2.3" fill="#e6efc4" stroke="#ad9050" stroke-width="1.0625"/>
<ellipse cx="692.6" cy="311.9" rx="5.7" ry="2.3" fill="#e6efc4" stroke="#ad9050" stroke-width="1.0625"/>
<ellipse cx="705.7" cy="311.9" rx="5.7" ry="2.3" fill="#e6efc4" stroke="#ad9050" stroke-width="1.0625"/>
<ellipse cx="718.9" cy="311.9" rx="5.7" ry="2.3" fill="#e6efc4" stroke="#ad9050" stroke-width="1.0625"/>
<ellipse cx="732.1" cy="311.9" rx="5.7" ry="2.3" fill="#e6efc4" stroke="#ad9050" stroke-width="1.0625"/>
<ellipse cx="745.2" cy="311.9" rx="5.7" ry="2.3" fill="#e6efc4" stroke="#ad9050" stroke-width="1.0625"/>
<ellipse cx="758.4" cy="311.9" rx="5.7" ry="2.3" fill="#e6efc4" stroke="#ad9050" stroke-width="1.0625"/>
<ellipse cx="771.6" cy="311.9" rx="5.7" ry="2.3" fill="#e6efc4" stroke="#ad9050" stroke-width="1.0625"/>
<ellipse cx="784.7" cy="311.9" rx="5.7" ry="2.3" fill="#e6efc4" stroke="#ad9050" stroke-width="1.0625"/>
<ellipse cx="797.9" cy="311.9" rx="5.7" ry="2.3" fill="#e6efc4" stroke="#ad9050" stroke-width="1.0625"/>
<ellipse cx="646.8" cy="316.8" rx="5.7" ry="2.3" fill="#e6efc4" stroke="#ad9050" stroke-width="1.0625"/>
<ellipse cx="660.0" cy="316.8" rx="5.7" ry="2.3" fill="#e6efc4" stroke="#ad9050" stroke-width="1.0625"/>
<ellipse cx="673.1" cy="316.8" rx="5.7" ry="2.3" fill="#e6efc4" stroke="#ad9050" stroke-width="1.0625"/>
<ellipse cx="686.3" cy="316.8" rx="5.7" ry="2.3" fill="#e6efc4" stroke="#ad9050" stroke-width="1.0625"/>
<ellipse cx="699.4" cy="316.8" rx="5.7" ry="2.3" fill="#e6efc4" stroke="#ad9050" stroke-width="1.0625"/>
<ellipse cx="712.6" cy="316.8" rx="5.7" ry="2.3" fill="#e6efc4" stroke="#ad9050" stroke-width="1.0625"/>
<ellipse cx="725.8" cy="316.8" rx="5.7" ry="2.3" fill="#e6efc4" stroke="#ad9050" stroke-width="1.0625"/>
<ellipse cx="738.9" cy="316.8" rx="5.7" ry="2.3" fill="#e6efc4" stroke="#ad9050" stroke-width="1.0625"/>
<ellipse cx="752.1" cy="316.8" rx="5.7" ry="2.3" fill="#e6efc4" stroke="#ad9050" stroke-width="1.0625"/>
<ellipse cx="765.3" cy="316.8" rx="5.7" ry="2.3" fill="#e6efc4" stroke="#ad9050" stroke-width="1.0625"/>
<ellipse cx="778.4" cy="316.8" rx="5.7" ry="2.3" fill="#e6efc4" stroke="#ad9050" stroke-width="1.0625"/>
<ellipse cx="791.6" cy="316.8" rx="5.7" ry="2.3" fill="#e6efc4" stroke="#ad9050" stroke-width="1.0625"/>
</g>
<g id="reader">
<polygon points="1127.6,154 1213.2,88.7 1436.5,88.7 1353.2,154" fill="#e3e3cf"/>
<polygon points="1127.6,154 1353.2,154 1353.2,293.3 1127.6,293.3" fill="#cfcfb3"/>
<polygon points="1353.2,154 1436.5,88.7 1436.5,224.5 1353.2,293.3" fill="#5e5f49"/>
<polygon points="1192,142.5 1240.3,100.4 1359.9,100.4 1310.4,142.5" fill="#9dcbec"/>
<polygon points="1150.1,199.6 1331.4,199.6 1331.4,222.7 1267.5,274.3 1085.4,274.3 1091.4,268.9 1150.1,222" fill="#5e5f49"/>
<polygon points="1261.5,255.3 1320.5,209.1 1320.5,222.7 1261.5,268.9" fill="#faf7f7" stroke="#8c3b36" stroke-width="1.1" stroke-linejoin="round"/>
<polygon points="1091.4,255.3 1261.5,255.3 1261.5,268.9 1091.4,268.9" fill="#fbf9f9" stroke="#8c3b36" stroke-width="1.1" stroke-linejoin="round"/>
<polygon points="1091.4,255.3 1151.2,209.1 1320.5,209.1 1261.5,255.3" fill="#f4e4e3" stroke="#8c3b36" stroke-width="1.1" stroke-linejoin="round"/>
<polygon points="1097.3,253.7 1153.6,210.2 1318.2,210.2 1262.0,253.7" fill="#f3dedc" stroke="#8c3b36" stroke-width="0.8800000000000001" stroke-linejoin="round"/>
<path d="M1264.8,250.5 v8.4 q3.1,0.9 6.3,-2.1 v-8.4" fill="#f1f6f8" fill-opacity="0.5" stroke="#cfcfd8" stroke-width="0.77"/>
<path d="M1271.2,245.5 v8.4 q3.1,0.9 6.3,-2.1 v-8.4" fill="#f1f6f8" fill-opacity="0.5" stroke="#cfcfd8" stroke-width="0.77"/>
<path d="M1277.7,240.5 v8.4 q3.1,0.9 6.3,-2.1 v-8.4" fill="#f1f6f8" fill-opacity="0.5" stroke="#cfcfd8" stroke-width="0.77"/>
<path d="M1284.2,235.5 v8.4 q3.1,0.9 6.3,-2.1 v-8.4" fill="#f1f6f8" fill-opacity="0.5" stroke="#cfcfd8" stroke-width="0.77"/>
<path d="M1290.7,230.4 v8.4 q3.1,0.9 6.3,-2.1 v-8.4" fill="#f1f6f8" fill-opacity="0.5" stroke="#cfcfd8" stroke-width="0.77"/>
<path d="M1297.2,225.4 v8.4 q3.1,0.9 6.3,-2.1 v-8.4" fill="#f1f6f8" fill-opacity="0.5" stroke="#cfcfd8" stroke-width="0.77"/>
<path d="M1303.7,220.4 v8.4 q3.1,0.9 6.3,-2.1 v-8.4" fill="#f1f6f8" fill-opacity="0.5" stroke="#cfcfd8" stroke-width="0.77"/>
<path d="M1310.1,215.4 v8.4 q3.1,0.9 6.3,-2.1 v-8.4" fill="#f1f6f8" fill-opacity="0.5" stroke="#cfcfd8" stroke-width="0.77"/>
<path d="M1106.0,249.5 v15.1 a5.7,2.1 0 0 0 11.4,0 v-15.1" fill="#f1f6f8" fill-opacity="0.55" stroke="#cfcfd8" stroke-width="0.8800000000000001"/>
<path d="M1119.1,249.5 v15.1 a5.7,2.1 0 0 0 11.4,0 v-15.1" fill="#f1f6f8" fill-opacity="0.55" stroke="#cfcfd8" stroke-width="0.8800000000000001"/>
<path d="M1132.3,249.5 v15.1 a5.7,2.1 0 0 0 11.4,0 v-15.1" fill="#f1f6f8" fill-opacity="0.55" stroke="#cfcfd8" stroke-width="0.8800000000000001"/>
<path d="M1145.4,249.5 v15.1 a5.7,2.1 0 0 0 11.4,0 v-15.1" fill="#f1f6f8" fill-opacity="0.55" stroke="#cfcfd8" stroke-width="0.8800000000000001"/>
<path d="M1158.6,249.5 v15.1 a5.7,2.1 0 0 0 11.4,0 v-15.1" fill="#f1f6f8" fill-opacity="0.55" stroke="#cfcfd8" stroke-width="0.8800000000000001"/>
<path d="M1171.7,249.5 v15.1 a5.7,2.1 0 0 0 11.4,0 v-15.1" fill="#f1f6f8" fill-opacity="0.55" stroke="#cfcfd8" stroke-width="0.8800000000000001"/>
<path d="M1184.9,249.5 v15.1 a5.7,2.1 0 0 0 11.4,0 v-15.1" fill="#f1f6f8" fill-opacity="0.55" stroke="#cfcfd8" stroke-width="0.8800000000000001"/>
<path d="M1198.0,249.5 v15.1 a5.7,2.1 0 0 0 11.4,0 v-15.1" fill="#f1f6f8" fill-opacity="0.55" stroke="#cfcfd8" stroke-width="0.8800000000000001"/>
<path d="M1211.2,249.5 v15.1 a5.7,2.1 0 0 0 11.4,0 v-15.1" fill="#f1f6f8" fill-opacity="0.55" stroke="#cfcfd8" stroke-width="0.8800000000000001"/>
<path d="M1224.3,249.5 v15.1 a5.7,2.1 0 0 0 11.4,0 v-15.1" fill="#f1f6f8" fill-opacity="0.55" stroke="#cfcfd8" stroke-width="0.8800000000000001"/>
<path d="M1237.5,249.5 v15.1 a5.7,2.1 0 0 0 11.4,0 v-15.1" fill="#f1f6f8" fill-opacity="0.55" stroke="#cfcfd8" stroke-width="0.8800000000000001"/>
<path d="M1250.6,249.5 v15.1 a5.7,2.1 0 0 0 11.4,0 v-15.1" fill="#f1f6f8" fill-opacity="0.55" stroke="#cfcfd8" stroke-width="0.8800000000000001"/>
<line x1="1091.4" y1="255.3" x2="1261.5" y2="255.3" stroke="#8c3b36" stroke-width="1.1"/>
<ellipse cx="1157.1" cy="214.4" rx="5.7" ry="2.3" fill="#f1f6f8" stroke="#a8706c" stroke-width="0.935"/>
<ellipse cx="1170.2" cy="214.4" rx="5.7" ry="2.3" fill="#f1f6f8" stroke="#a8706c" stroke-width="0.935"/>
<ellipse cx="1183.4" cy="214.4" rx="5.7" ry="2.3" fill="#f1f6f8" stroke="#a8706c" stroke-width="0.935"/>
<ellipse cx="1196.5" cy="214.4" rx="5.7" ry="2.3" fill="#f1f6f8" stroke="#a8706c" stroke-width="0.935"/>
<ellipse cx="1209.7" cy="214.4" rx="5.7" ry="2.3" fill="#f1f6f8" stroke="#a8706c" stroke-width="0.935"/>
<ellipse cx="1222.8" cy="214.4" rx="5.7" ry="2.3" fill="#f1f6f8" stroke="#a8706c" stroke-width="0.935"/>
<ellipse cx="1236.0" cy="214.4" rx="5.7" ry="2.3" fill="#f1f6f8" stroke="#a8706c" stroke-width="0.935"/>
<ellipse cx="1249.1" cy="214.4" rx="5.7" ry="2.3" fill="#f1f6f8" stroke="#a8706c" stroke-width="0.935"/>
<ellipse cx="1262.3" cy="214.4" rx="5.7" ry="2.3" fill="#f1f6f8" stroke="#a8706c" stroke-width="0.935"/>
<ellipse cx="1275.4" cy="214.4" rx="5.7" ry="2.3" fill="#f1f6f8" stroke="#a8706c" stroke-width="0.935"/>
<ellipse cx="1288.6" cy="214.4" rx="5.7" ry="2.3" fill="#f1f6f8" stroke="#a8706c" stroke-width="0.935"/>
<ellipse cx="1301.7" cy="214.4" rx="5.7" ry="2.3" fill="#f1f6f8" stroke="#a8706c" stroke-width="0.935"/>
<ellipse cx="1150.6" cy="219.4" rx="5.7" ry="2.3" fill="#f1f6f8" stroke="#a8706c" stroke-width="0.935"/>
<ellipse cx="1163.7" cy="219.4" rx="5.7" ry="2.3" fill="#f1f6f8" stroke="#a8706c" stroke-width="0.935"/>
<ellipse cx="1176.9" cy="219.4" rx="5.7" ry="2.3" fill="#f1f6f8" stroke="#a8706c" stroke-width="0.935"/>
<ellipse cx="1190.0" cy="219.4" rx="5.7" ry="2.3" fill="#f1f6f8" stroke="#a8706c" stroke-width="0.935"/>
<ellipse cx="1203.2" cy="219.4" rx="5.7" ry="2.3" fill="#f1f6f8" stroke="#a8706c" stroke-width="0.935"/>
<ellipse cx="1216.3" cy="219.4" rx="5.7" ry="2.3" fill="#f1f6f8" stroke="#a8706c" stroke-width="0.935"/>
<ellipse cx="1229.5" cy="219.4" rx="5.7" ry="2.3" fill="#f1f6f8" stroke="#a8706c" stroke-width="0.935"/>
<ellipse cx="1242.6" cy="219.4" rx="5.7" ry="2.3" fill="#f1f6f8" stroke="#a8706c" stroke-width="0.935"/>
<ellipse cx="1255.8" cy="219.4" rx="5.7" ry="2.3" fill="#f1f6f8" stroke="#a8706c" stroke-width="0.935"/>
<ellipse cx="1268.9" cy="219.4" rx="5.7" ry="2.3" fill="#f1f6f8" stroke="#a8706c" stroke-width="0.935"/>
<ellipse cx="1282.1" cy="219.4" rx="5.7" ry="2.3" fill="#f1f6f8" stroke="#a8706c" stroke-width="0.935"/>
<ellipse cx="1295.2" cy="219.4" rx="5.7" ry="2.3" fill="#f1f6f8" stroke="#a8706c" stroke-width="0.935"/>
<ellipse cx="1144.1" cy="224.4" rx="5.7" ry="2.3" fill="#f1f6f8" stroke="#a8706c" stroke-width="0.935"/>
<ellipse cx="1157.3" cy="224.4" rx="5.7" ry="2.3" fill="#f1f6f8" stroke="#a8706c" stroke-width="0.935"/>
<ellipse cx="1170.4" cy="224.4" rx="5.7" ry="2.3" fill="#f1f6f8" stroke="#a8706c" stroke-width="0.935"/>
<ellipse cx="1183.6" cy="224.4" rx="5.7" ry="2.3" fill="#f1f6f8" stroke="#a8706c" stroke-width="0.935"/>
<ellipse cx="1196.7" cy="224.4" rx="5.7" ry="2.3" fill="#f1f6f8" stroke="#a8706c" stroke-width="0.935"/>
<ellipse cx="1209.8" cy="224.4" rx="5.7" ry="2.3" fill="#f1f6f8" stroke="#a8706c" stroke-width="0.935"/>
<ellipse cx="1223.0" cy="224.4" rx="5.7" ry="2.3" fill="#f1f6f8" stroke="#a8706c" stroke-width="0.935"/>
<ellipse cx="1236.1" cy="224.4" rx="5.7" ry="2.3" fill="#f1f6f8" stroke="#a8706c" stroke-width="0.935"/>
<ellipse cx="1249.3" cy="224.4" rx="5.7" ry="2.3" fill="#f1f6f8" stroke="#a8706c" stroke-width="0.935"/>
<ellipse cx="1262.4" cy="224.4" rx="5.7" ry="2.3" fill="#f1f6f8" stroke="#a8706c" stroke-width="0.935"/>
<ellipse cx="1275.6" cy="224.4" rx="5.7" ry="2.3" fill="#f1f6f8" stroke="#a8706c" stroke-width="0.935"/>
<ellipse cx="1288.7" cy="224.4" rx="5.7" ry="2.3" fill="#f1f6f8" stroke="#a8706c" stroke-width="0.935"/>
<ellipse cx="1137.6" cy="229.4" rx="5.7" ry="2.3" fill="#f1f6f8" stroke="#a8706c" stroke-width="0.935"/>
<ellipse cx="1150.8" cy="229.4" rx="5.7" ry="2.3" fill="#f1f6f8" stroke="#a8706c" stroke-width="0.935"/>
<ellipse cx="1163.9" cy="229.4" rx="5.7" ry="2.3" fill="#f1f6f8" stroke="#a8706c" stroke-width="0.935"/>
<ellipse cx="1177.1" cy="229.4" rx="5.7" ry="2.3" fill="#f1f6f8" stroke="#a8706c" stroke-width="0.935"/>
<ellipse cx="1190.2" cy="229.4" rx="5.7" ry="2.3" fill="#f1f6f8" stroke="#a8706c" stroke-width="0.935"/>
<ellipse cx="1203.4" cy="229.4" rx="5.7" ry="2.3" fill="#f1f6f8" stroke="#a8706c" stroke-width="0.935"/>
<ellipse cx="1216.5" cy="229.4" rx="5.7" ry="2.3" fill="#f1f6f8" stroke="#a8706c" stroke-width="0.935"/>
<ellipse cx="1229.7" cy="229.4" rx="5.7" ry="2.3" fill="#f1f6f8" stroke="#a8706c" stroke-width="0.935"/>
<ellipse cx="1242.8" cy="229.4" rx="5.7" ry="2.3" fill="#f1f6f8" stroke="#a8706c" stroke-width="0.935"/>
<ellipse cx="1256.0" cy="229.4" rx="5.7" ry="2.3" fill="#f1f6f8" stroke="#a8706c" stroke-width="0.935"/>
<ellipse cx="1269.1" cy="229.4" rx="5.7" ry="2.3" fill="#f1f6f8" stroke="#a8706c" stroke-width="0.935"/>
<ellipse cx="1282.3" cy="229.4" rx="5.7" ry="2.3" fill="#f1f6f8" stroke="#a8706c" stroke-width="0.935"/>
<ellipse cx="1131.1" cy="234.5" rx="5.7" ry="2.3" fill="#f1f6f8" stroke="#a8706c" stroke-width="0.935"/>
<ellipse cx="1144.3" cy="234.5" rx="5.7" ry="2.3" fill="#f1f6f8" stroke="#a8706c" stroke-width="0.935"/>
<ellipse cx="1157.4" cy="234.5" rx="5.7" ry="2.3" fill="#f1f6f8" stroke="#a8706c" stroke-width="0.935"/>
<ellipse cx="1170.6" cy="234.5" rx="5.7" ry="2.3" fill="#f1f6f8" stroke="#a8706c" stroke-width="0.935"/>
<ellipse cx="1183.7" cy="234.5" rx="5.7" ry="2.3" fill="#f1f6f8" stroke="#a8706c" stroke-width="0.935"/>
<ellipse cx="1196.9" cy="234.5" rx="5.7" ry="2.3" fill="#f1f6f8" stroke="#a8706c" stroke-width="0.935"/>
<ellipse cx="1210.0" cy="234.5" rx="5.7" ry="2.3" fill="#f1f6f8" stroke="#a8706c" stroke-width="0.935"/>
<ellipse cx="1223.2" cy="234.5" rx="5.7" ry="2.3" fill="#f1f6f8" stroke="#a8706c" stroke-width="0.935"/>
<ellipse cx="1236.3" cy="234.5" rx="5.7" ry="2.3" fill="#f1f6f8" stroke="#a8706c" stroke-width="0.935"/>
<ellipse cx="1249.5" cy="234.5" rx="5.7" ry="2.3" fill="#f1f6f8" stroke="#a8706c" stroke-width="0.935"/>
<ellipse cx="1262.6" cy="234.5" rx="5.7" ry="2.3" fill="#f1f6f8" stroke="#a8706c" stroke-width="0.935"/>
<ellipse cx="1275.8" cy="234.5" rx="5.7" ry="2.3" fill="#f1f6f8" stroke="#a8706c" stroke-width="0.935"/>
<ellipse cx="1124.7" cy="239.5" rx="5.7" ry="2.3" fill="#f1f6f8" stroke="#a8706c" stroke-width="0.935"/>
<ellipse cx="1137.8" cy="239.5" rx="5.7" ry="2.3" fill="#f1f6f8" stroke="#a8706c" stroke-width="0.935"/>
<ellipse cx="1151.0" cy="239.5" rx="5.7" ry="2.3" fill="#f1f6f8" stroke="#a8706c" stroke-width="0.935"/>
<ellipse cx="1164.1" cy="239.5" rx="5.7" ry="2.3" fill="#f1f6f8" stroke="#a8706c" stroke-width="0.935"/>
<ellipse cx="1177.3" cy="239.5" rx="5.7" ry="2.3" fill="#f1f6f8" stroke="#a8706c" stroke-width="0.935"/>
<ellipse cx="1190.4" cy="239.5" rx="5.7" ry="2.3" fill="#f1f6f8" stroke="#a8706c" stroke-width="0.935"/>
<ellipse cx="1203.5" cy="239.5" rx="5.7" ry="2.3" fill="#f1f6f8" stroke="#a8706c" stroke-width="0.935"/>
<ellipse cx="1216.7" cy="239.5" rx="5.7" ry="2.3" fill="#f1f6f8" stroke="#a8706c" stroke-width="0.935"/>
<ellipse cx="1229.8" cy="239.5" rx="5.7" ry="2.3" fill="#f1f6f8" stroke="#a8706c" stroke-width="0.935"/>
<ellipse cx="1243.0" cy="239.5" rx="5.7" ry="2.3" fill="#f1f6f8" stroke="#a8706c" stroke-width="0.935"/>
<ellipse cx="1256.1" cy="239.5" rx="5.7" ry="2.3" fill="#f1f6f8" stroke="#a8706c" stroke-width="0.935"/>
<ellipse cx="1269.3" cy="239.5" rx="5.7" ry="2.3" fill="#f1f6f8" stroke="#a8706c" stroke-width="0.935"/>
<ellipse cx="1118.2" cy="244.5" rx="5.7" ry="2.3" fill="#f1f6f8" stroke="#a8706c" stroke-width="0.935"/>
<ellipse cx="1131.3" cy="244.5" rx="5.7" ry="2.3" fill="#f1f6f8" stroke="#a8706c" stroke-width="0.935"/>
<ellipse cx="1144.5" cy="244.5" rx="5.7" ry="2.3" fill="#f1f6f8" stroke="#a8706c" stroke-width="0.935"/>
<ellipse cx="1157.6" cy="244.5" rx="5.7" ry="2.3" fill="#f1f6f8" stroke="#a8706c" stroke-width="0.935"/>
<ellipse cx="1170.8" cy="244.5" rx="5.7" ry="2.3" fill="#f1f6f8" stroke="#a8706c" stroke-width="0.935"/>
<ellipse cx="1183.9" cy="244.5" rx="5.7" ry="2.3" fill="#f1f6f8" stroke="#a8706c" stroke-width="0.935"/>
<ellipse cx="1197.1" cy="244.5" rx="5.7" ry="2.3" fill="#f1f6f8" stroke="#a8706c" stroke-width="0.935"/>
<ellipse cx="1210.2" cy="244.5" rx="5.7" ry="2.3" fill="#f1f6f8" stroke="#a8706c" stroke-width="0.935"/>
<ellipse cx="1223.4" cy="244.5" rx="5.7" ry="2.3" fill="#f1f6f8" stroke="#a8706c" stroke-width="0.935"/>
<ellipse cx="1236.5" cy="244.5" rx="5.7" ry="2.3" fill="#f1f6f8" stroke="#a8706c" stroke-width="0.935"/>
<ellipse cx="1249.7" cy="244.5" rx="5.7" ry="2.3" fill="#f1f6f8" stroke="#a8706c" stroke-width="0.935"/>
<ellipse cx="1262.8" cy="244.5" rx="5.7" ry="2.3" fill="#f1f6f8" stroke="#a8706c" stroke-width="0.935"/>
<ellipse cx="1111.7" cy="249.5" rx="5.7" ry="2.3" fill="#f1f6f8" stroke="#a8706c" stroke-width="0.935"/>
<ellipse cx="1124.8" cy="249.5" rx="5.7" ry="2.3" fill="#f1f6f8" stroke="#a8706c" stroke-width="0.935"/>
<ellipse cx="1138.0" cy="249.5" rx="5.7" ry="2.3" fill="#f1f6f8" stroke="#a8706c" stroke-width="0.935"/>
<ellipse cx="1151.1" cy="249.5" rx="5.7" ry="2.3" fill="#f1f6f8" stroke="#a8706c" stroke-width="0.935"/>
<ellipse cx="1164.3" cy="249.5" rx="5.7" ry="2.3" fill="#f1f6f8" stroke="#a8706c" stroke-width="0.935"/>
<ellipse cx="1177.4" cy="249.5" rx="5.7" ry="2.3" fill="#f1f6f8" stroke="#a8706c" stroke-width="0.935"/>
<ellipse cx="1190.6" cy="249.5" rx="5.7" ry="2.3" fill="#f1f6f8" stroke="#a8706c" stroke-width="0.935"/>
<ellipse cx="1203.7" cy="249.5" rx="5.7" ry="2.3" fill="#f1f6f8" stroke="#a8706c" stroke-width="0.935"/>
<ellipse cx="1216.9" cy="249.5" rx="5.7" ry="2.3" fill="#f1f6f8" stroke="#a8706c" stroke-width="0.935"/>
<ellipse cx="1230.0" cy="249.5" rx="5.7" ry="2.3" fill="#f1f6f8" stroke="#a8706c" stroke-width="0.935"/>
<ellipse cx="1243.2" cy="249.5" rx="5.7" ry="2.3" fill="#f1f6f8" stroke="#a8706c" stroke-width="0.935"/>
<ellipse cx="1256.3" cy="249.5" rx="5.7" ry="2.3" fill="#f1f6f8" stroke="#a8706c" stroke-width="0.935"/>
</g>
<g id="chart-mid">
<rect x="638.7" y="412.6" width="274.7" height="262.6" fill="#ffffff"/>
<rect x="638.7" y="633.2" width="274.7" height="42.0" fill="#d9e7ee"/>
<path d="M638.7,423.1 L641.0,428.3 L643.3,433.3 L645.6,438.3 L647.9,443.1 L650.1,447.8 L652.4,452.3 L654.7,456.8 L657.0,461.1 L659.3,465.4 L661.6,469.5 L663.9,473.5 L666.2,477.5 L668.5,481.3 L670.7,485.1 L673.0,488.7 L675.3,492.3 L677.6,495.8 L679.9,499.1 L682.2,502.4 L684.5,505.7 L686.8,508.8 L689.1,511.9 L691.4,514.9 L693.6,517.8 L695.9,520.6 L698.2,523.4 L700.5,526.1 L702.8,528.8 L705.1,531.3 L707.4,533.8 L709.7,536.3 L712.0,538.7 L714.2,541.0 L716.5,543.3 L718.8,545.5 L721.1,547.7 L723.4,549.8 L725.7,551.8 L728.0,553.8 L730.3,555.8 L732.6,557.7 L734.8,559.6 L737.1,561.4 L739.4,563.1 L741.7,564.9 L744.0,566.6 L746.3,568.2 L748.6,569.8 L750.9,571.4 L753.2,572.9 L755.4,574.4 L757.7,575.8 L760.0,577.2 L762.3,578.6 L764.6,580.0 L766.9,581.3 L769.2,582.6 L771.5,583.8 L773.8,585.0 L776.0,586.2 L778.3,587.4 L780.6,588.5 L782.9,589.6 L785.2,590.7 L787.5,591.7 L789.8,592.7 L792.1,593.7 L794.4,594.7 L796.7,595.7 L798.9,596.6 L801.2,597.5 L803.5,598.4 L805.8,599.2 L808.1,600.1 L810.4,600.9 L812.7,601.7 L815.0,602.4 L817.3,603.2 L819.5,603.9 L821.8,604.7 L824.1,605.4 L826.4,606.1 L828.7,606.7 L831.0,607.4 L833.3,608.0 L835.6,608.6 L837.9,609.2 L840.1,609.8 L842.4,610.4 L844.7,611.0 L847.0,611.5 L849.3,612.0 L851.6,612.6 L853.9,613.1 L856.2,613.6 L858.5,614.1 L860.7,614.5 L863.0,615.0 L865.3,615.4 L867.6,615.9 L869.9,616.3 L872.2,616.7 L874.5,617.1 L876.8,617.5 L879.1,617.9 L881.4,618.3 L883.6,618.6 L885.9,619.0 L888.2,619.4 L890.5,619.7 L892.8,620.0 L895.1,620.4 L897.4,620.7 L899.7,621.0 L902.0,621.3 L904.2,621.6 L906.5,621.9 L908.8,622.1 L911.1,622.4 L913.4,622.7 L913.4,633.2 L638.7,633.2 Z" fill="#f6dbdb"/>
<line x1="639.7" y1="633.2" x2="913.4" y2="633.2" stroke="#a8322d" stroke-width="3" stroke-dasharray="8.2 6.65" stroke-dashoffset="2.1"/>
<rect x="638.7" y="412.6" width="274.7" height="262.6" fill="none" stroke="#6a6a6a" stroke-width="1.4"/>
<path d="M638.7,675.2 v4.5 M661.6,675.2 v2.5 M684.5,675.2 v4.5 M707.4,675.2 v2.5 M730.3,675.2 v4.5 M753.2,675.2 v2.5 M776.0,675.2 v4.5 M798.9,675.2 v2.5 M821.8,675.2 v4.5 M844.7,675.2 v2.5 M867.6,675.2 v4.5 M890.5,675.2 v2.5 M913.4,675.2 v4.5 M638.7,675.2 h-4.5 M638.7,648.9 h-2.5 M638.7,622.7 h-4.5 M638.7,596.4 h-2.5 M638.7,570.2 h-4.5 M638.7,543.9 h-2.5 M638.7,517.6 h-4.5 M638.7,491.4 h-2.5 M638.7,465.1 h-4.5 M638.7,438.9 h-2.5 M638.7,412.6 h-4.5" stroke="#6a6a6a" stroke-width="1.3" fill="none"/>
<path d="M638.7,423.1 L641.0,428.3 L643.3,433.3 L645.6,438.3 L647.9,443.1 L650.1,447.8 L652.4,452.3 L654.7,456.8 L657.0,461.1 L659.3,465.4 L661.6,469.5 L663.9,473.5 L666.2,477.5 L668.5,481.3 L670.7,485.1 L673.0,488.7 L675.3,492.3 L677.6,495.8 L679.9,499.1 L682.2,502.4 L684.5,505.7 L686.8,508.8 L689.1,511.9 L691.4,514.9 L693.6,517.8 L695.9,520.6 L698.2,523.4 L700.5,526.1 L702.8,528.8 L705.1,531.3 L707.4,533.8 L709.7,536.3 L712.0,538.7 L714.2,541.0 L716.5,543.3 L718.8,545.5 L721.1,547.7 L723.4,549.8 L725.7,551.8 L728.0,553.8 L730.3,555.8 L732.6,557.7 L734.8,559.6 L737.1,561.4 L739.4,563.1 L741.7,564.9 L744.0,566.6 L746.3,568.2 L748.6,569.8 L750.9,571.4 L753.2,572.9 L755.4,574.4 L757.7,575.8 L760.0,577.2 L762.3,578.6 L764.6,580.0 L766.9,581.3 L769.2,582.6 L771.5,583.8 L773.8,585.0 L776.0,586.2 L778.3,587.4 L780.6,588.5 L782.9,589.6 L785.2,590.7 L787.5,591.7 L789.8,592.7 L792.1,593.7 L794.4,594.7 L796.7,595.7 L798.9,596.6 L801.2,597.5 L803.5,598.4 L805.8,599.2 L808.1,600.1 L810.4,600.9 L812.7,601.7 L815.0,602.4 L817.3,603.2 L819.5,603.9 L821.8,604.7 L824.1,605.4 L826.4,606.1 L828.7,606.7 L831.0,607.4 L833.3,608.0 L835.6,608.6 L837.9,609.2 L840.1,609.8 L842.4,610.4 L844.7,611.0 L847.0,611.5 L849.3,612.0 L851.6,612.6 L853.9,613.1 L856.2,613.6 L858.5,614.1 L860.7,614.5 L863.0,615.0 L865.3,615.4 L867.6,615.9 L869.9,616.3 L872.2,616.7 L874.5,617.1 L876.8,617.5 L879.1,617.9 L881.4,618.3 L883.6,618.6 L885.9,619.0 L888.2,619.4 L890.5,619.7 L892.8,620.0 L895.1,620.4 L897.4,620.7 L899.7,621.0 L902.0,621.3 L904.2,621.6 L906.5,621.9 L908.8,622.1 L911.1,622.4 L913.4,622.7" fill="none" stroke="#444" stroke-width="1.5"/>
<clipPath id="cpm"><rect x="638.0" y="411.9" width="276.1" height="264.0"/></clipPath>
<g clip-path="url(#cpm)">
<circle cx="638.7" cy="423.1" r="3.75" fill="#4e4e4e"/>
<circle cx="661.6" cy="469.5" r="3.75" fill="#4e4e4e"/>
<circle cx="684.5" cy="505.7" r="3.75" fill="#4e4e4e"/>
<circle cx="707.4" cy="533.8" r="3.75" fill="#4e4e4e"/>
<circle cx="730.3" cy="555.8" r="3.75" fill="#4e4e4e"/>
<circle cx="753.2" cy="572.9" r="3.75" fill="#4e4e4e"/>
<circle cx="776.0" cy="586.2" r="3.75" fill="#4e4e4e"/>
<circle cx="798.9" cy="596.6" r="3.75" fill="#4e4e4e"/>
<circle cx="821.8" cy="604.7" r="3.75" fill="#4e4e4e"/>
<circle cx="844.7" cy="611.0" r="3.75" fill="#4e4e4e"/>
<circle cx="867.6" cy="615.9" r="3.75" fill="#4e4e4e"/>
<circle cx="890.5" cy="619.7" r="3.75" fill="#4e4e4e"/>
<circle cx="913.4" cy="622.7" r="3.75" fill="#4e4e4e"/>
</g>
<g font-size="14.8" fill="#222">
<text transform="translate(638.7,695.6) scale(0.9,1)" text-anchor="middle">0</text>
<text transform="translate(684.5,695.6) scale(0.9,1)" text-anchor="middle">10</text>
<text transform="translate(730.3,695.6) scale(0.9,1)" text-anchor="middle">20</text>
<text transform="translate(776.0,695.6) scale(0.9,1)" text-anchor="middle">30</text>
<text transform="translate(821.8,695.6) scale(0.9,1)" text-anchor="middle">40</text>
<text transform="translate(867.6,695.6) scale(0.9,1)" text-anchor="middle">50</text>
<text transform="translate(913.4,695.6) scale(0.9,1)" text-anchor="middle">60</text>
<text transform="translate(629.5,680.3) scale(0.9,1)" text-anchor="end">0.0</text>
<text transform="translate(629.5,627.8) scale(0.9,1)" text-anchor="end">0.5</text>
<text transform="translate(629.5,575.3) scale(0.9,1)" text-anchor="end">1.0</text>
<text transform="translate(629.5,522.7) scale(0.9,1)" text-anchor="end">1.5</text>
<text transform="translate(629.5,470.2) scale(0.9,1)" text-anchor="end">2.0</text>
<text transform="translate(629.5,417.7) scale(0.9,1)" text-anchor="end">2.5</text>
</g>
<text x="776.3" y="722.0" text-anchor="middle" font-size="19.6" font-weight="bold" fill="#1e1e1e">Time (min)</text>
<text transform="translate(598.2,549.9) rotate(-90)" text-anchor="middle" font-size="18" font-weight="bold" fill="#1e1e1e">Apparent absorption (O.D.)</text>
<text x="680.2" y="601.3" font-size="19.3" font-weight="bold" font-style="italic" fill="#161616">A<tspan font-size="13.6" font-style="normal" dy="5.5">dye</tspan></text>
<text x="680.2" y="660.5" font-size="19.3" font-weight="bold" font-style="italic" fill="#161616">S<tspan font-size="13.6" font-style="normal" dy="5.5">photocatalyst</tspan></text>
</g>
<g id="chart-right">
<rect x="1144.3" y="410.6" width="275.2" height="262.4" fill="#ffffff"/>
<rect x="1144.3" y="410.6" width="275.2" height="262.4" fill="none" stroke="#6a6a6a" stroke-width="1.4"/>
<path d="M1144.3,673 v4.5 M1167.2,673 v2.5 M1190.2,673 v4.5 M1213.1,673 v2.5 M1236.0,673 v4.5 M1259.0,673 v2.5 M1281.9,673 v4.5 M1304.8,673 v2.5 M1327.8,673 v4.5 M1350.7,673 v2.5 M1373.6,673 v4.5 M1396.6,673 v2.5 M1419.5,673 v4.5 M1144.3,673.0 h-4.5 M1144.3,646.8 h-2.5 M1144.3,620.5 h-4.5 M1144.3,594.3 h-2.5 M1144.3,568.0 h-4.5 M1144.3,541.8 h-2.5 M1144.3,515.6 h-4.5 M1144.3,489.3 h-2.5 M1144.3,463.1 h-4.5 M1144.3,436.8 h-2.5 M1144.3,410.6 h-4.5" stroke="#6a6a6a" stroke-width="1.3" fill="none"/>
<path d="M1144.3,421.1 L1146.6,426.3 L1148.9,431.3 L1151.2,436.2 L1153.5,441.0 L1155.8,445.7 L1158.1,450.3 L1160.4,454.8 L1162.6,459.1 L1164.9,463.3 L1167.2,467.5 L1169.5,471.5 L1171.8,475.4 L1174.1,479.3 L1176.4,483.0 L1178.7,486.7 L1181.0,490.2 L1183.3,493.7 L1185.6,497.1 L1187.9,500.4 L1190.2,503.6 L1192.5,506.7 L1194.8,509.8 L1197.0,512.8 L1199.3,515.7 L1201.6,518.5 L1203.9,521.3 L1206.2,524.0 L1208.5,526.7 L1210.8,529.2 L1213.1,531.7 L1215.4,534.2 L1217.7,536.6 L1220.0,538.9 L1222.3,541.2 L1224.6,543.4 L1226.9,545.6 L1229.2,547.7 L1231.4,549.7 L1233.7,551.7 L1236.0,553.7 L1238.3,555.6 L1240.6,557.4 L1242.9,559.3 L1245.2,561.0 L1247.5,562.8 L1249.8,564.4 L1252.1,566.1 L1254.4,567.7 L1256.7,569.2 L1259.0,570.8 L1261.3,572.2 L1263.6,573.7 L1265.8,575.1 L1268.1,576.5 L1270.4,577.8 L1272.7,579.1 L1275.0,580.4 L1277.3,581.7 L1279.6,582.9 L1281.9,584.1 L1284.2,585.2 L1286.5,586.4 L1288.8,587.5 L1291.1,588.5 L1293.4,589.6 L1295.7,590.6 L1298.0,591.6 L1300.2,592.6 L1302.5,593.5 L1304.8,594.4 L1307.1,595.3 L1309.4,596.2 L1311.7,597.1 L1314.0,597.9 L1316.3,598.7 L1318.6,599.5 L1320.9,600.3 L1323.2,601.1 L1325.5,601.8 L1327.8,602.5 L1330.1,603.2 L1332.4,603.9 L1334.6,604.6 L1336.9,605.2 L1339.2,605.9 L1341.5,606.5 L1343.8,607.1 L1346.1,607.7 L1348.4,608.3 L1350.7,608.8 L1353.0,609.4 L1355.3,609.9 L1357.6,610.4 L1359.9,610.9 L1362.2,611.4 L1364.5,611.9 L1366.8,612.4 L1369.0,612.8 L1371.3,613.3 L1373.6,613.7 L1375.9,614.1 L1378.2,614.6 L1380.5,615.0 L1382.8,615.4 L1385.1,615.7 L1387.4,616.1 L1389.7,616.5 L1392.0,616.9 L1394.3,617.2 L1396.6,617.5 L1398.9,617.9 L1401.2,618.2 L1403.4,618.5 L1405.7,618.8 L1408.0,619.1 L1410.3,619.4 L1412.6,619.7 L1414.9,620.0 L1417.2,620.3 L1419.5,620.5" fill="none" stroke="#444" stroke-width="1.5"/>
<clipPath id="cpr"><rect x="1143.6" y="409.9" width="276.6" height="263.8"/></clipPath>
<g clip-path="url(#cpr)">
<circle cx="1144.3" cy="421.1" r="3.75" fill="#4e4e4e"/>
<circle cx="1167.2" cy="467.5" r="3.75" fill="#4e4e4e"/>
<circle cx="1190.2" cy="503.6" r="3.75" fill="#4e4e4e"/>
<circle cx="1213.1" cy="531.7" r="3.75" fill="#4e4e4e"/>
<circle cx="1236.0" cy="553.7" r="3.75" fill="#4e4e4e"/>
<circle cx="1259.0" cy="570.8" r="3.75" fill="#4e4e4e"/>
<circle cx="1281.9" cy="584.1" r="3.75" fill="#4e4e4e"/>
<circle cx="1304.8" cy="594.4" r="3.75" fill="#4e4e4e"/>
<circle cx="1327.8" cy="602.5" r="3.75" fill="#4e4e4e"/>
<circle cx="1350.7" cy="608.8" r="3.75" fill="#4e4e4e"/>
<circle cx="1373.6" cy="613.7" r="3.75" fill="#4e4e4e"/>
<circle cx="1396.6" cy="617.5" r="3.75" fill="#4e4e4e"/>
<circle cx="1419.5" cy="620.5" r="3.75" fill="#4e4e4e"/>
</g>
<g font-size="14.8" fill="#222">
<text transform="translate(1144.3,693.4) scale(0.9,1)" text-anchor="middle">0</text>
<text transform="translate(1190.2,693.4) scale(0.9,1)" text-anchor="middle">10</text>
<text transform="translate(1236.0,693.4) scale(0.9,1)" text-anchor="middle">20</text>
<text transform="translate(1281.9,693.4) scale(0.9,1)" text-anchor="middle">30</text>
<text transform="translate(1327.8,693.4) scale(0.9,1)" text-anchor="middle">40</text>
<text transform="translate(1373.6,693.4) scale(0.9,1)" text-anchor="middle">50</text>
<text transform="translate(1419.5,693.4) scale(0.9,1)" text-anchor="middle">60</text>
<text transform="translate(1135.1,678.1) scale(0.9,1)" text-anchor="end">0.0</text>
<text transform="translate(1135.1,625.6) scale(0.9,1)" text-anchor="end">0.5</text>
<text transform="translate(1135.1,573.1) scale(0.9,1)" text-anchor="end">1.0</text>
<text transform="translate(1135.1,520.7) scale(0.9,1)" text-anchor="end">1.5</text>
<text transform="translate(1135.1,468.2) scale(0.9,1)" text-anchor="end">2.0</text>
<text transform="translate(1135.1,415.7) scale(0.9,1)" text-anchor="end">2.5</text>
</g>
<text x="1282.2" y="719.8" text-anchor="middle" font-size="19.6" font-weight="bold" fill="#1e1e1e">Time (min)</text>
<text transform="translate(1105.3,547.8) rotate(-90)" text-anchor="middle" font-size="18" font-weight="bold" fill="#1e1e1e">Apparent absorption (O.D.)</text>
</g>
<g id="bars3d">
<polygon points="4.0,628.5 96.2,563.4 395.5,601.1 335.0,678.3" fill="#f6f7fc" stroke="none"/>
<path d="M6.5,629.3 L96.2,563.4 L395.5,601.1" fill="none" stroke="#777" stroke-width="0.6"/>
<g stroke="#222" stroke-width="0.55" stroke-opacity="0.6" stroke-linejoin="round"><polygon points="104.4,570.6 108.9,567.4 108.9,550.8 104.4,554.0" fill="#c3cfd8"/><polygon points="96.1,569.6 104.4,570.6 104.4,554.0 96.1,553.0" fill="#dfe7ec"/><polygon points="96.1,553.0 104.4,554.0 108.9,550.8 100.6,549.7" fill="#f0f4f7"/></g>
<g stroke="#222" stroke-width="0.55" stroke-opacity="0.6" stroke-linejoin="round"><polygon points="127.9,573.6 132.2,570.3 132.2,550.7 127.9,554.0" fill="#c4837d"/><polygon points="119.4,572.5 127.9,573.6 127.9,554.0 119.4,553.0" fill="#dfa49d"/><polygon points="119.4,553.0 127.9,554.0 132.2,550.7 123.8,549.7" fill="#ecbfb9"/></g>
<g stroke="#222" stroke-width="0.55" stroke-opacity="0.6" stroke-linejoin="round"><polygon points="151.6,576.7 155.9,573.3 155.9,550.7 151.6,554.0" fill="#c4837d"/><polygon points="143.0,575.6 151.6,576.7 151.6,554.0 143.0,553.0" fill="#dfa49d"/><polygon points="143.0,553.0 151.6,554.0 155.9,550.7 147.3,549.6" fill="#ecbfb9"/></g>
<g stroke="#222" stroke-width="0.55" stroke-opacity="0.6" stroke-linejoin="round"><polygon points="175.7,579.8 179.8,576.4 179.8,550.7 175.7,554.1" fill="#c4837d"/><polygon points="167.0,578.6 175.7,579.8 175.7,554.1 167.0,552.9" fill="#dfa49d"/><polygon points="167.0,552.9 175.7,554.1 179.8,550.7 171.2,549.6" fill="#ecbfb9"/></g>
<g stroke="#222" stroke-width="0.55" stroke-opacity="0.6" stroke-linejoin="round"><polygon points="200.1,582.9 204.2,579.5 204.2,550.6 200.1,554.1" fill="#c4837d"/><polygon points="191.3,581.7 200.1,582.9 200.1,554.1 191.3,552.9" fill="#dfa49d"/><polygon points="191.3,552.9 200.1,554.1 204.2,550.6 195.4,549.5" fill="#ecbfb9"/></g>
<g stroke="#222" stroke-width="0.55" stroke-opacity="0.6" stroke-linejoin="round"><polygon points="224.9,586.1 228.8,582.6 228.8,550.6 224.9,554.1" fill="#c4837d"/><polygon points="216.0,584.9 224.9,586.1 224.9,554.1 216.0,552.9" fill="#dfa49d"/><polygon points="216.0,552.9 224.9,554.1 228.8,550.6 219.9,549.5" fill="#ecbfb9"/></g>
<g stroke="#222" stroke-width="0.55" stroke-opacity="0.6" stroke-linejoin="round"><polygon points="250.1,589.3 253.9,585.8 253.9,550.6 250.1,554.1" fill="#c4837d"/><polygon points="241.0,588.1 250.1,589.3 250.1,554.1 241.0,552.9" fill="#dfa49d"/><polygon points="241.0,552.9 250.1,554.1 253.9,550.6 244.8,549.4" fill="#ecbfb9"/></g>
<g stroke="#222" stroke-width="0.55" stroke-opacity="0.6" stroke-linejoin="round"><polygon points="275.7,592.6 279.3,589.0 279.3,550.5 275.7,554.1" fill="#c4837d"/><polygon points="266.4,591.4 275.7,592.6 275.7,554.1 266.4,552.9" fill="#dfa49d"/><polygon points="266.4,552.9 275.7,554.1 279.3,550.5 270.1,549.4" fill="#ecbfb9"/></g>
<g stroke="#222" stroke-width="0.55" stroke-opacity="0.6" stroke-linejoin="round"><polygon points="301.6,595.9 305.1,592.3 305.1,435.5 301.6,439.1" fill="#86221e"/><polygon points="292.2,594.7 301.6,595.9 301.6,439.1 292.2,437.9" fill="#a32e29"/><polygon points="292.2,437.9 301.6,439.1 305.1,435.5 295.8,434.3" fill="#b6433d"/></g>
<g stroke="#222" stroke-width="0.55" stroke-opacity="0.6" stroke-linejoin="round"><polygon points="328.0,599.2 331.3,595.6 331.3,550.4 328.0,554.1" fill="#c4837d"/><polygon points="318.4,598.0 328.0,599.2 328.0,554.1 318.4,552.9" fill="#dfa49d"/><polygon points="318.4,552.9 328.0,554.1 331.3,550.4 321.8,549.2" fill="#ecbfb9"/></g>
<g stroke="#222" stroke-width="0.55" stroke-opacity="0.6" stroke-linejoin="round"><polygon points="354.7,602.7 357.9,599.0 357.9,550.4 354.7,554.1" fill="#c4837d"/><polygon points="345.0,601.4 354.7,602.7 354.7,554.1 345.0,552.9" fill="#dfa49d"/><polygon points="345.0,552.9 354.7,554.1 357.9,550.4 348.3,549.2" fill="#ecbfb9"/></g>
<g stroke="#222" stroke-width="0.55" stroke-opacity="0.6" stroke-linejoin="round"><polygon points="381.9,606.1 384.9,602.4 384.9,509.4 381.9,513.1" fill="#c3cfd8"/><polygon points="372.1,604.9 381.9,606.1 381.9,513.1 372.1,511.9" fill="#dfe7ec"/><polygon points="372.1,511.9 381.9,513.1 384.9,509.4 375.1,508.1" fill="#f0f4f7"/></g>
<g stroke="#222" stroke-width="0.55" stroke-opacity="0.6" stroke-linejoin="round"><polygon points="94.0,578.2 98.6,574.8 98.6,545.7 94.0,549.1" fill="#c3cfd8"/><polygon points="85.6,577.1 94.0,578.2 94.0,549.1 85.6,547.9" fill="#dfe7ec"/><polygon points="85.6,547.9 94.0,549.1 98.6,545.7 90.2,544.6" fill="#f0f4f7"/></g>
<g stroke="#222" stroke-width="0.55" stroke-opacity="0.6" stroke-linejoin="round"><polygon points="117.7,581.3 122.2,577.9 122.2,545.7 117.7,549.1" fill="#c4837d"/><polygon points="109.1,580.2 117.7,581.3 117.7,549.1 109.1,547.9" fill="#dfa49d"/><polygon points="109.1,547.9 117.7,549.1 122.2,545.7 113.7,544.6" fill="#ecbfb9"/></g>
<g stroke="#222" stroke-width="0.55" stroke-opacity="0.6" stroke-linejoin="round"><polygon points="141.7,584.4 146.1,581.0 146.1,545.6 141.7,549.1" fill="#c4837d"/><polygon points="133.0,583.3 141.7,584.4 141.7,549.1 133.0,547.9" fill="#dfa49d"/><polygon points="133.0,547.9 141.7,549.1 146.1,545.6 137.5,544.5" fill="#ecbfb9"/></g>
<g stroke="#222" stroke-width="0.55" stroke-opacity="0.6" stroke-linejoin="round"><polygon points="166.1,587.6 170.3,584.1 170.3,545.6 166.1,549.1" fill="#c4837d"/><polygon points="157.3,586.5 166.1,587.6 166.1,549.1 157.3,547.9" fill="#dfa49d"/><polygon points="157.3,547.9 166.1,549.1 170.3,545.6 161.6,544.5" fill="#ecbfb9"/></g>
<g stroke="#222" stroke-width="0.55" stroke-opacity="0.6" stroke-linejoin="round"><polygon points="190.8,590.8 195.0,587.3 195.0,545.6 190.8,549.1" fill="#c4837d"/><polygon points="181.9,589.7 190.8,590.8 190.8,549.1 181.9,547.9" fill="#dfa49d"/><polygon points="181.9,547.9 190.8,549.1 195.0,545.6 186.1,544.4" fill="#ecbfb9"/></g>
<g stroke="#222" stroke-width="0.55" stroke-opacity="0.6" stroke-linejoin="round"><polygon points="215.9,594.1 219.9,590.5 219.9,545.5 215.9,549.1" fill="#c4837d"/><polygon points="206.8,592.9 215.9,594.1 215.9,549.1 206.8,547.9" fill="#dfa49d"/><polygon points="206.8,547.9 215.9,549.1 219.9,545.5 210.9,544.3" fill="#ecbfb9"/></g>
<g stroke="#222" stroke-width="0.55" stroke-opacity="0.6" stroke-linejoin="round"><polygon points="241.4,597.5 245.3,593.8 245.3,545.5 241.4,549.1" fill="#c4837d"/><polygon points="232.2,596.3 241.4,597.5 241.4,549.1 232.2,547.9" fill="#dfa49d"/><polygon points="232.2,547.9 241.4,549.1 245.3,545.5 236.1,544.3" fill="#ecbfb9"/></g>
<g stroke="#222" stroke-width="0.55" stroke-opacity="0.6" stroke-linejoin="round"><polygon points="267.3,600.8 271.0,597.2 271.0,545.4 267.3,549.1" fill="#c4837d"/><polygon points="257.9,599.6 267.3,600.8 267.3,549.1 257.9,547.9" fill="#dfa49d"/><polygon points="257.9,547.9 267.3,549.1 271.0,545.4 261.7,544.2" fill="#ecbfb9"/></g>
<g stroke="#222" stroke-width="0.55" stroke-opacity="0.6" stroke-linejoin="round"><polygon points="293.6,604.3 297.1,600.5 297.1,545.4 293.6,549.1" fill="#c4837d"/><polygon points="284.1,603.0 293.6,604.3 293.6,549.1 284.1,547.9" fill="#dfa49d"/><polygon points="284.1,547.9 293.6,549.1 297.1,545.4 287.7,544.2" fill="#ecbfb9"/></g>
<g stroke="#222" stroke-width="0.55" stroke-opacity="0.6" stroke-linejoin="round"><polygon points="320.2,607.8 323.7,604.0 323.7,545.3 320.2,549.1" fill="#c4837d"/><polygon points="310.6,606.5 320.2,607.8 320.2,549.1 310.6,547.9" fill="#dfa49d"/><polygon points="310.6,547.9 320.2,549.1 323.7,545.3 314.1,544.1" fill="#ecbfb9"/></g>
<g stroke="#222" stroke-width="0.55" stroke-opacity="0.6" stroke-linejoin="round"><polygon points="347.3,611.3 350.6,607.5 350.6,469.9 347.3,473.7" fill="#ad5550"/><polygon points="337.5,610.0 347.3,611.3 347.3,473.7 337.5,472.5" fill="#cb706a"/><polygon points="337.5,472.5 347.3,473.7 350.6,469.9 340.9,468.6" fill="#d88a85"/></g>
<g stroke="#222" stroke-width="0.55" stroke-opacity="0.6" stroke-linejoin="round"><polygon points="374.9,614.9 378.0,611.0 378.0,552.0 374.9,555.9" fill="#8aa2c3"/><polygon points="364.9,613.6 374.9,614.9 374.9,555.9 364.9,554.5" fill="#a9bdd7"/><polygon points="364.9,554.5 374.9,555.9 378.0,552.0 368.1,550.7" fill="#bfcfe3"/></g>
<g stroke="#222" stroke-width="0.55" stroke-opacity="0.6" stroke-linejoin="round"><polygon points="83.3,586.0 88.1,582.5 88.1,498.6 83.3,502.1" fill="#c3cfd8"/><polygon points="74.8,584.8 83.3,586.0 83.3,502.1 74.8,500.9" fill="#dfe7ec"/><polygon points="74.8,500.9 83.3,502.1 88.1,498.6 79.6,497.5" fill="#f0f4f7"/></g>
<g stroke="#222" stroke-width="0.55" stroke-opacity="0.6" stroke-linejoin="round"><polygon points="107.2,589.2 111.9,585.7 111.9,530.6 107.2,534.1" fill="#c4837d"/><polygon points="98.6,588.0 107.2,589.2 107.2,534.1 98.6,532.9" fill="#dfa49d"/><polygon points="98.6,532.9 107.2,534.1 111.9,530.6 103.3,529.4" fill="#ecbfb9"/></g>
<g stroke="#222" stroke-width="0.55" stroke-opacity="0.6" stroke-linejoin="round"><polygon points="131.5,592.4 136.0,588.9 136.0,520.5 131.5,524.1" fill="#c4837d"/><polygon points="122.7,591.2 131.5,592.4 131.5,524.1 122.7,522.9" fill="#dfa49d"/><polygon points="122.7,522.9 131.5,524.1 136.0,520.5 127.3,519.4" fill="#ecbfb9"/></g>
<g stroke="#222" stroke-width="0.55" stroke-opacity="0.6" stroke-linejoin="round"><polygon points="156.2,595.7 160.6,592.1 160.6,448.5 156.2,452.1" fill="#c4837d"/><polygon points="147.3,594.5 156.2,595.7 156.2,452.1 147.3,450.9" fill="#dfa49d"/><polygon points="147.3,450.9 156.2,452.1 160.6,448.5 151.7,447.3" fill="#ecbfb9"/></g>
<g stroke="#222" stroke-width="0.55" stroke-opacity="0.6" stroke-linejoin="round"><polygon points="181.2,599.0 185.5,595.4 185.5,418.3 181.2,421.9" fill="#86221e"/><polygon points="172.2,597.8 181.2,599.0 181.2,421.9 172.2,420.7" fill="#a32e29"/><polygon points="172.2,420.7 181.2,421.9 185.5,418.3 176.5,417.1" fill="#b6433d"/></g>
<g stroke="#222" stroke-width="0.55" stroke-opacity="0.6" stroke-linejoin="round"><polygon points="206.6,602.4 210.7,598.8 210.7,520.4 206.6,524.1" fill="#c4837d"/><polygon points="197.4,601.2 206.6,602.4 206.6,524.1 197.4,522.9" fill="#dfa49d"/><polygon points="197.4,522.9 206.6,524.1 210.7,520.4 201.6,519.2" fill="#ecbfb9"/></g>
<g stroke="#222" stroke-width="0.55" stroke-opacity="0.6" stroke-linejoin="round"><polygon points="232.4,605.9 236.4,602.1 236.4,520.4 232.4,524.1" fill="#c4837d"/><polygon points="223.1,604.6 232.4,605.9 232.4,524.1 223.1,522.9" fill="#dfa49d"/><polygon points="223.1,522.9 232.4,524.1 236.4,520.4 227.1,519.2" fill="#ecbfb9"/></g>
<g stroke="#222" stroke-width="0.55" stroke-opacity="0.6" stroke-linejoin="round"><polygon points="256.6,609.4 260.5,605.6 260.5,421.8 256.6,425.6" fill="#86221e"/><polygon points="247.1,608.1 256.6,609.4 256.6,425.6 247.1,424.4" fill="#a32e29"/><polygon points="247.1,424.4 256.6,425.6 260.5,421.8 251.0,420.6" fill="#b6433d"/></g>
<g stroke="#222" stroke-width="0.55" stroke-opacity="0.6" stroke-linejoin="round"><polygon points="287.7,612.9 291.4,609.1 291.4,498.3 287.7,502.1" fill="#e3c5bc"/><polygon points="278.1,611.7 287.7,612.9 287.7,502.1 278.1,500.9" fill="#f7e2db"/><polygon points="278.1,500.9 287.7,502.1 291.4,498.3 281.9,497.0" fill="#fcf0eb"/></g>
<g stroke="#222" stroke-width="0.55" stroke-opacity="0.6" stroke-linejoin="round"><polygon points="312.3,616.6 315.8,612.7 315.8,520.3 312.3,524.2" fill="#c4837d"/><polygon points="302.5,615.2 312.3,616.6 312.3,524.2 302.5,522.8" fill="#dfa49d"/><polygon points="302.5,522.8 312.3,524.2 315.8,520.3 306.1,519.0" fill="#ecbfb9"/></g>
<g stroke="#222" stroke-width="0.55" stroke-opacity="0.6" stroke-linejoin="round"><polygon points="339.7,620.2 343.1,616.3 343.1,540.2 339.7,544.2" fill="#c4837d"/><polygon points="329.8,618.9 339.7,620.2 339.7,544.2 329.8,542.8" fill="#dfa49d"/><polygon points="329.8,542.8 339.7,544.2 343.1,540.2 333.2,538.9" fill="#ecbfb9"/></g>
<g stroke="#222" stroke-width="0.55" stroke-opacity="0.6" stroke-linejoin="round"><polygon points="367.6,623.9 370.8,619.9 370.8,551.9 367.6,555.9" fill="#8aa2c3"/><polygon points="357.5,622.6 367.6,623.9 367.6,555.9 357.5,554.5" fill="#a9bdd7"/><polygon points="357.5,554.5 367.6,555.9 370.8,551.9 360.8,550.5" fill="#bfcfe3"/></g>
<g stroke="#222" stroke-width="0.55" stroke-opacity="0.6" stroke-linejoin="round"><polygon points="72.3,594.0 77.2,590.4 77.2,540.5 72.3,544.1" fill="#c3cfd8"/><polygon points="63.6,592.8 72.3,594.0 72.3,544.1 63.6,542.9" fill="#dfe7ec"/><polygon points="63.6,542.9 72.3,544.1 77.2,540.5 68.6,539.4" fill="#f0f4f7"/></g>
<g stroke="#222" stroke-width="0.55" stroke-opacity="0.6" stroke-linejoin="round"><polygon points="96.5,597.3 101.2,593.7 101.2,530.5 96.5,534.1" fill="#c4837d"/><polygon points="87.7,596.1 96.5,597.3 96.5,534.1 87.7,532.9" fill="#dfa49d"/><polygon points="87.7,532.9 96.5,534.1 101.2,530.5 92.5,529.3" fill="#ecbfb9"/></g>
<g stroke="#222" stroke-width="0.55" stroke-opacity="0.6" stroke-linejoin="round"><polygon points="121.0,600.6 125.7,597.0 125.7,500.5 121.0,504.1" fill="#e3c5bc"/><polygon points="112.1,599.4 121.0,600.6 121.0,504.1 112.1,502.9" fill="#f7e2db"/><polygon points="112.1,502.9 121.0,504.1 125.7,500.5 116.8,499.3" fill="#fcf0eb"/></g>
<g stroke="#222" stroke-width="0.55" stroke-opacity="0.6" stroke-linejoin="round"><polygon points="146.0,604.0 150.5,600.3 150.5,520.4 146.0,524.1" fill="#c4837d"/><polygon points="137.0,602.8 146.0,604.0 146.0,524.1 137.0,522.9" fill="#dfa49d"/><polygon points="137.0,522.9 146.0,524.1 150.5,520.4 141.5,519.2" fill="#ecbfb9"/></g>
<g stroke="#222" stroke-width="0.55" stroke-opacity="0.6" stroke-linejoin="round"><polygon points="171.3,607.5 175.7,603.7 175.7,520.4 171.3,524.1" fill="#c4837d"/><polygon points="162.1,606.2 171.3,607.5 171.3,524.1 162.1,522.9" fill="#dfa49d"/><polygon points="162.1,522.9 171.3,524.1 175.7,520.4 166.6,519.1" fill="#ecbfb9"/></g>
<g stroke="#222" stroke-width="0.55" stroke-opacity="0.6" stroke-linejoin="round"><polygon points="197.0,611.0 201.3,607.2 201.3,500.3 197.0,504.1" fill="#c4837d"/><polygon points="187.7,609.7 197.0,611.0 197.0,504.1 187.7,502.9" fill="#dfa49d"/><polygon points="187.7,502.9 197.0,504.1 201.3,500.3 192.0,499.1" fill="#ecbfb9"/></g>
<g stroke="#222" stroke-width="0.55" stroke-opacity="0.6" stroke-linejoin="round"><polygon points="223.2,614.6 227.3,610.7 227.3,472.3 223.2,476.1" fill="#e3c5bc"/><polygon points="213.7,613.3 223.2,614.6 223.2,476.1 213.7,474.9" fill="#f7e2db"/><polygon points="213.7,474.9 223.2,476.1 227.3,472.3 217.9,471.0" fill="#fcf0eb"/></g>
<g stroke="#222" stroke-width="0.55" stroke-opacity="0.6" stroke-linejoin="round"><polygon points="249.7,618.2 253.7,614.3 253.7,471.2 249.7,475.2" fill="#86221e"/><polygon points="240.1,616.9 249.7,618.2 249.7,475.2 240.1,473.8" fill="#a32e29"/><polygon points="240.1,473.8 249.7,475.2 253.7,471.2 244.1,470.0" fill="#b6433d"/></g>
<g stroke="#222" stroke-width="0.55" stroke-opacity="0.6" stroke-linejoin="round"><polygon points="278.2,621.9 282.0,617.9 282.0,453.7 278.2,457.7" fill="#a54843"/><polygon points="268.4,620.5 278.2,621.9 278.2,457.7 268.4,456.3" fill="#c5615c"/><polygon points="268.4,456.3 278.2,457.7 282.0,453.7 272.3,452.4" fill="#d27c77"/></g>
<g stroke="#222" stroke-width="0.55" stroke-opacity="0.6" stroke-linejoin="round"><polygon points="304.0,625.6 307.7,621.6 307.7,545.2 304.0,549.2" fill="#c4837d"/><polygon points="294.1,624.3 304.0,625.6 304.0,549.2 294.1,547.8" fill="#dfa49d"/><polygon points="294.1,547.8 304.0,549.2 307.7,545.2 297.8,543.8" fill="#ecbfb9"/></g>
<g stroke="#222" stroke-width="0.55" stroke-opacity="0.6" stroke-linejoin="round"><polygon points="331.9,629.4 335.4,625.3 335.4,467.1 331.9,471.2" fill="#c4837d"/><polygon points="321.8,628.0 331.9,629.4 331.9,471.2 321.8,469.8" fill="#dfa49d"/><polygon points="321.8,469.8 331.9,471.2 335.4,467.1 325.3,465.8" fill="#ecbfb9"/></g>
<g stroke="#222" stroke-width="0.55" stroke-opacity="0.6" stroke-linejoin="round"><polygon points="360.2,633.3 363.5,629.1 363.5,469.1 360.2,473.2" fill="#a54843"/><polygon points="349.9,631.9 360.2,633.3 360.2,473.2 349.9,471.8" fill="#c5615c"/><polygon points="349.9,471.8 360.2,473.2 363.5,469.1 353.3,467.7" fill="#d27c77"/></g>
<g stroke="#222" stroke-width="0.55" stroke-opacity="0.6" stroke-linejoin="round"><polygon points="60.9,602.2 65.9,598.6 65.9,540.5 60.9,544.1" fill="#c3cfd8"/><polygon points="52.2,601.0 60.9,602.2 60.9,544.1 52.2,542.9" fill="#dfe7ec"/><polygon points="52.2,542.9 60.9,544.1 65.9,540.5 57.2,539.3" fill="#f0f4f7"/></g>
<g stroke="#222" stroke-width="0.55" stroke-opacity="0.6" stroke-linejoin="round"><polygon points="85.4,605.6 90.3,601.9 90.3,557.4 85.4,561.1" fill="#3f699d"/><polygon points="76.5,604.4 85.4,605.6 85.4,561.1 76.5,559.9" fill="#5681b6"/><polygon points="76.5,559.9 85.4,561.1 90.3,557.4 81.5,556.2" fill="#6e95c4"/></g>
<g stroke="#222" stroke-width="0.55" stroke-opacity="0.6" stroke-linejoin="round"><polygon points="110.2,609.1 115.0,605.3 115.0,449.7 110.2,453.4" fill="#c4837d"/><polygon points="101.2,607.8 110.2,609.1 110.2,453.4 101.2,452.2" fill="#dfa49d"/><polygon points="101.2,452.2 110.2,453.4 115.0,449.7 106.1,448.4" fill="#ecbfb9"/></g>
<g stroke="#222" stroke-width="0.55" stroke-opacity="0.6" stroke-linejoin="round"><polygon points="135.5,612.6 140.1,608.8 140.1,474.7 135.5,478.5" fill="#e3c5bc"/><polygon points="126.3,611.3 135.5,612.6 135.5,478.5 126.3,477.3" fill="#f7e2db"/><polygon points="126.3,477.3 135.5,478.5 140.1,474.7 131.0,473.5" fill="#fcf0eb"/></g>
<g stroke="#222" stroke-width="0.55" stroke-opacity="0.6" stroke-linejoin="round"><polygon points="161.1,616.2 165.6,612.3 165.6,471.3 161.1,475.1" fill="#d09d96"/><polygon points="151.8,614.9 161.1,616.2 161.1,475.1 151.8,473.9" fill="#e9beb7"/><polygon points="151.8,473.9 161.1,475.1 165.6,471.3 156.4,470.0" fill="#f2d3cd"/></g>
<g stroke="#222" stroke-width="0.55" stroke-opacity="0.6" stroke-linejoin="round"><polygon points="187.2,619.8 191.5,615.9 191.5,478.2 187.2,482.2" fill="#c4837d"/><polygon points="177.7,618.5 187.2,619.8 187.2,482.2 177.7,480.8" fill="#dfa49d"/><polygon points="177.7,480.8 187.2,482.2 191.5,478.2 182.2,476.9" fill="#ecbfb9"/></g>
<g stroke="#222" stroke-width="0.55" stroke-opacity="0.6" stroke-linejoin="round"><polygon points="213.6,623.5 217.8,619.6 217.8,464.2 213.6,468.2" fill="#a54843"/><polygon points="204.0,622.2 213.6,623.5 213.6,468.2 204.0,466.8" fill="#c5615c"/><polygon points="204.0,466.8 213.6,468.2 217.8,464.2 208.3,462.9" fill="#d27c77"/></g>
<g stroke="#222" stroke-width="0.55" stroke-opacity="0.6" stroke-linejoin="round"><polygon points="240.5,627.3 244.6,623.2 244.6,470.1 240.5,474.2" fill="#a54843"/><polygon points="230.8,625.9 240.5,627.3 240.5,474.2 230.8,472.8" fill="#c5615c"/><polygon points="230.8,472.8 240.5,474.2 244.6,470.1 234.9,468.8" fill="#d27c77"/></g>
<g stroke="#222" stroke-width="0.55" stroke-opacity="0.6" stroke-linejoin="round"><polygon points="262.8,631.1 266.7,627.0 266.7,423.1 262.8,427.2" fill="#86221e"/><polygon points="252.9,629.7 262.8,631.1 262.8,427.2 252.9,425.8" fill="#a32e29"/><polygon points="252.9,425.8 262.8,427.2 266.7,423.1 256.9,421.7" fill="#b6433d"/></g>
<g stroke="#222" stroke-width="0.55" stroke-opacity="0.6" stroke-linejoin="round"><polygon points="295.6,635.0 299.3,630.8 299.3,525.7 295.6,529.9" fill="#e3c5bc"/><polygon points="285.5,633.6 295.6,635.0 295.6,529.9 285.5,528.5" fill="#f7e2db"/><polygon points="285.5,528.5 295.6,529.9 299.3,525.7 289.3,524.4" fill="#fcf0eb"/></g>
<g stroke="#222" stroke-width="0.55" stroke-opacity="0.6" stroke-linejoin="round"><polygon points="323.8,638.9 327.4,634.7 327.4,501.7 323.8,505.9" fill="#c4837d"/><polygon points="313.6,637.5 323.8,638.9 323.8,505.9 313.6,504.5" fill="#dfa49d"/><polygon points="313.6,504.5 323.8,505.9 327.4,501.7 317.2,500.3" fill="#ecbfb9"/></g>
<g stroke="#222" stroke-width="0.55" stroke-opacity="0.6" stroke-linejoin="round"><polygon points="352.4,642.9 355.9,638.6 355.9,478.4 352.4,482.7" fill="#a54843"/><polygon points="342.1,641.5 352.4,642.9 352.4,482.7 342.1,481.3" fill="#c5615c"/><polygon points="342.1,481.3 352.4,482.7 355.9,478.4 345.6,477.0" fill="#d27c77"/></g>
<g stroke="#222" stroke-width="0.55" stroke-opacity="0.6" stroke-linejoin="round"><polygon points="49.2,610.7 54.4,606.9 54.4,515.4 49.2,519.1" fill="#c3cfd8"/><polygon points="40.3,609.4 49.2,610.7 49.2,519.1 40.3,517.9" fill="#dfe7ec"/><polygon points="40.3,517.9 49.2,519.1 54.4,515.4 45.6,514.1" fill="#f0f4f7"/></g>
<g stroke="#222" stroke-width="0.55" stroke-opacity="0.6" stroke-linejoin="round"><polygon points="73.9,614.2 79.0,610.4 79.0,530.3 73.9,534.1" fill="#c4837d"/><polygon points="65.0,613.0 73.9,614.2 73.9,534.1 65.0,532.9" fill="#dfa49d"/><polygon points="65.0,532.9 73.9,534.1 79.0,530.3 70.1,529.1" fill="#ecbfb9"/></g>
<g stroke="#222" stroke-width="0.55" stroke-opacity="0.6" stroke-linejoin="round"><polygon points="99.1,617.8 104.0,614.0 104.0,464.0 99.1,467.8" fill="#c4837d"/><polygon points="90.0,616.5 99.1,617.8 99.1,467.8 90.0,466.6" fill="#dfa49d"/><polygon points="90.0,466.6 99.1,467.8 104.0,464.0 95.0,462.7" fill="#ecbfb9"/></g>
<g stroke="#222" stroke-width="0.55" stroke-opacity="0.6" stroke-linejoin="round"><polygon points="124.6,621.5 129.4,617.5 129.4,542.2 124.6,546.2" fill="#e3c5bc"/><polygon points="115.4,620.2 124.6,621.5 124.6,546.2 115.4,544.8" fill="#f7e2db"/><polygon points="115.4,544.8 124.6,546.2 129.4,542.2 120.2,540.9" fill="#fcf0eb"/></g>
<g stroke="#222" stroke-width="0.55" stroke-opacity="0.6" stroke-linejoin="round"><polygon points="150.6,625.2 155.3,621.2 155.3,474.2 150.6,478.2" fill="#a54843"/><polygon points="141.2,623.8 150.6,625.2 150.6,478.2 141.2,476.8" fill="#c5615c"/><polygon points="141.2,476.8 150.6,478.2 155.3,474.2 145.9,472.9" fill="#d27c77"/></g>
<g stroke="#222" stroke-width="0.55" stroke-opacity="0.6" stroke-linejoin="round"><polygon points="177.0,628.9 181.5,624.9 181.5,454.5 177.0,458.6" fill="#86221e"/><polygon points="167.4,627.6 177.0,628.9 177.0,458.6 167.4,457.2" fill="#a32e29"/><polygon points="167.4,457.2 177.0,458.6 181.5,454.5 172.0,453.2" fill="#b6433d"/></g>
<g stroke="#222" stroke-width="0.55" stroke-opacity="0.6" stroke-linejoin="round"><polygon points="203.8,632.8 208.1,628.7 208.1,488.8 203.8,492.9" fill="#e3c5bc"/><polygon points="194.1,631.4 203.8,632.8 203.8,492.9 194.1,491.5" fill="#f7e2db"/><polygon points="194.1,491.5 203.8,492.9 208.1,488.8 198.5,487.4" fill="#fcf0eb"/></g>
<g stroke="#222" stroke-width="0.55" stroke-opacity="0.6" stroke-linejoin="round"><polygon points="231.0,636.7 235.2,632.5 235.2,474.0 231.0,478.2" fill="#a54843"/><polygon points="221.1,635.3 231.0,636.7 231.0,478.2 221.1,476.8" fill="#c5615c"/><polygon points="221.1,476.8 231.0,478.2 235.2,474.0 225.4,472.7" fill="#d27c77"/></g>
<g stroke="#222" stroke-width="0.55" stroke-opacity="0.6" stroke-linejoin="round"><polygon points="258.7,640.6 262.7,636.4 262.7,502.6 258.7,506.8" fill="#c4837d"/><polygon points="248.6,639.2 258.7,640.6 258.7,506.8 248.6,505.4" fill="#dfa49d"/><polygon points="248.6,505.4 258.7,506.8 262.7,502.6 252.8,501.2" fill="#ecbfb9"/></g>
<g stroke="#222" stroke-width="0.55" stroke-opacity="0.6" stroke-linejoin="round"><polygon points="286.8,644.6 290.7,640.3 290.7,544.9 286.8,549.2" fill="#c3cfd8"/><polygon points="276.6,643.2 286.8,644.6 286.8,549.2 276.6,547.8" fill="#dfe7ec"/><polygon points="276.6,547.8 286.8,549.2 290.7,544.9 280.6,543.5" fill="#f0f4f7"/></g>
<g stroke="#222" stroke-width="0.55" stroke-opacity="0.6" stroke-linejoin="round"><polygon points="315.4,648.7 319.1,644.4 319.1,506.9 315.4,511.2" fill="#c4837d"/><polygon points="305.0,647.2 315.4,648.7 315.4,511.2 305.0,509.8" fill="#dfa49d"/><polygon points="305.0,509.8 315.4,511.2 319.1,506.9 308.8,505.4" fill="#ecbfb9"/></g>
<g stroke="#222" stroke-width="0.55" stroke-opacity="0.6" stroke-linejoin="round"><polygon points="344.5,652.9 348.0,648.4 348.0,461.3 344.5,465.8" fill="#86221e"/><polygon points="333.9,651.4 344.5,652.9 344.5,465.8 333.9,464.2" fill="#a32e29"/><polygon points="333.9,464.2 344.5,465.8 348.0,461.3 337.6,459.9" fill="#b6433d"/></g>
<g stroke="#222" stroke-width="0.55" stroke-opacity="0.6" stroke-linejoin="round"><polygon points="333.2,641.2 335.9,638.0 335.9,528.5 333.2,531.7" fill="#c3cfd8"/><polygon points="327.7,640.0 333.2,641.2 333.2,531.7 327.7,530.5" fill="#dfe7ec"/><polygon points="327.7,530.5 333.2,531.7 335.9,528.5 330.4,527.3" fill="#f0f4f7"/></g>
<g stroke="#222" stroke-width="0.55" stroke-opacity="0.6" stroke-linejoin="round"><polygon points="37.1,619.5 42.4,615.6 42.4,504.3 37.1,508.2" fill="#ddb8ab"/><polygon points="28.2,618.2 37.1,619.5 37.1,508.2 28.2,506.8" fill="#f2d5ca"/><polygon points="28.2,506.8 37.1,508.2 42.4,504.3 33.6,503.0" fill="#f9e6de"/></g>
<g stroke="#222" stroke-width="0.55" stroke-opacity="0.6" stroke-linejoin="round"><polygon points="62.1,623.1 67.4,619.2 67.4,443.2 62.1,447.2" fill="#86221e"/><polygon points="53.1,621.8 62.1,623.1 62.1,447.2 53.1,445.8" fill="#a32e29"/><polygon points="53.1,445.8 62.1,447.2 67.4,443.2 58.4,441.9" fill="#b6433d"/></g>
<g stroke="#222" stroke-width="0.55" stroke-opacity="0.6" stroke-linejoin="round"><polygon points="87.6,626.8 92.7,622.8 92.7,608.2 87.6,612.2" fill="#213b61"/><polygon points="78.4,625.5 87.6,626.8 87.6,612.2 78.4,610.8" fill="#2d4c79"/><polygon points="78.4,610.8 87.6,612.2 92.7,608.2 83.5,606.9" fill="#3d5d8b"/></g>
<g stroke="#222" stroke-width="0.55" stroke-opacity="0.6" stroke-linejoin="round"><polygon points="113.5,630.6 118.4,626.6 118.4,476.8 113.5,480.9" fill="#a54843"/><polygon points="104.1,629.2 113.5,630.6 113.5,480.9 104.1,479.5" fill="#c5615c"/><polygon points="104.1,479.5 113.5,480.9 118.4,476.8 109.1,475.5" fill="#d27c77"/></g>
<g stroke="#222" stroke-width="0.55" stroke-opacity="0.6" stroke-linejoin="round"><polygon points="139.7,634.5 144.5,630.3 144.5,511.1 139.7,515.2" fill="#ddb8ab"/><polygon points="130.2,633.1 139.7,634.5 139.7,515.2 130.2,513.8" fill="#f2d5ca"/><polygon points="130.2,513.8 139.7,515.2 144.5,511.1 135.1,509.7" fill="#f9e6de"/></g>
<g stroke="#222" stroke-width="0.55" stroke-opacity="0.6" stroke-linejoin="round"><polygon points="166.4,638.4 171.1,634.2 171.1,525.7 166.4,529.9" fill="#e3c5bc"/><polygon points="156.8,636.9 166.4,638.4 166.4,529.9 156.8,528.5" fill="#f7e2db"/><polygon points="156.8,528.5 166.4,529.9 171.1,525.7 161.5,524.3" fill="#fcf0eb"/></g>
<g stroke="#222" stroke-width="0.55" stroke-opacity="0.6" stroke-linejoin="round"><polygon points="193.6,642.3 198.1,638.1 198.1,516.0 193.6,520.2" fill="#e3c5bc"/><polygon points="183.8,640.9 193.6,642.3 193.6,520.2 183.8,518.8" fill="#f7e2db"/><polygon points="183.8,518.8 193.6,520.2 198.1,516.0 188.3,514.6" fill="#fcf0eb"/></g>
<g stroke="#222" stroke-width="0.55" stroke-opacity="0.6" stroke-linejoin="round"><polygon points="221.2,646.3 225.5,642.0 225.5,601.8 221.2,606.1" fill="#3f699d"/><polygon points="211.2,644.9 221.2,646.3 221.2,606.1 211.2,604.7" fill="#5681b6"/><polygon points="211.2,604.7 221.2,606.1 225.5,601.8 215.6,600.4" fill="#6e95c4"/></g>
<g stroke="#222" stroke-width="0.55" stroke-opacity="0.6" stroke-linejoin="round"><polygon points="249.2,650.4 253.4,646.1 253.4,533.9 249.2,538.2" fill="#ddb8ab"/><polygon points="239.1,649.0 249.2,650.4 249.2,538.2 239.1,536.8" fill="#f2d5ca"/><polygon points="239.1,536.8 249.2,538.2 253.4,533.9 243.3,532.4" fill="#f9e6de"/></g>
<g stroke="#222" stroke-width="0.55" stroke-opacity="0.6" stroke-linejoin="round"><polygon points="277.7,654.6 281.8,650.2 281.8,512.6 277.7,517.1" fill="#c4837d"/><polygon points="267.4,653.1 277.7,654.6 277.7,517.1 267.4,515.5" fill="#dfa49d"/><polygon points="267.4,515.5 277.7,517.1 281.8,512.6 271.5,511.1" fill="#ecbfb9"/></g>
<g stroke="#222" stroke-width="0.55" stroke-opacity="0.6" stroke-linejoin="round"><polygon points="306.7,658.8 310.6,654.3 310.6,467.6 306.7,472.1" fill="#86221e"/><polygon points="296.2,657.3 306.7,658.8 306.7,472.1 296.2,470.5" fill="#a32e29"/><polygon points="296.2,470.5 306.7,472.1 310.6,467.6 300.1,466.1" fill="#b6433d"/></g>
<g stroke="#222" stroke-width="0.55" stroke-opacity="0.6" stroke-linejoin="round"><polygon points="336.2,663.2 339.9,658.6 339.9,555.3 336.2,559.9" fill="#c3cfd8"/><polygon points="325.6,661.6 336.2,663.2 336.2,559.9 325.6,558.3" fill="#dfe7ec"/><polygon points="325.6,558.3 336.2,559.9 339.9,555.3 329.3,553.8" fill="#f0f4f7"/></g>
<g stroke="#222" stroke-width="0.55" stroke-opacity="0.6" stroke-linejoin="round"><polygon points="24.6,628.5 30.2,624.5 30.2,540.9 24.6,544.9" fill="#c3cfd8"/><polygon points="15.6,627.1 24.6,628.5 24.6,544.9 15.6,543.5" fill="#dfe7ec"/><polygon points="15.6,543.5 24.6,544.9 30.2,540.9 21.2,539.5" fill="#f0f4f7"/></g>
<g stroke="#222" stroke-width="0.55" stroke-opacity="0.6" stroke-linejoin="round"><polygon points="50.0,632.3 55.4,628.2 55.4,532.1 50.0,536.2" fill="#c3cfd8"/><polygon points="40.8,630.9 50.0,632.3 50.0,536.2 40.8,534.8" fill="#dfe7ec"/><polygon points="40.8,534.8 50.0,536.2 55.4,532.1 46.2,530.8" fill="#f0f4f7"/></g>
<g stroke="#222" stroke-width="0.55" stroke-opacity="0.6" stroke-linejoin="round"><polygon points="75.7,636.1 81.0,632.0 81.0,476.1 75.7,480.2" fill="#ad5550"/><polygon points="66.4,634.7 75.7,636.1 75.7,480.2 66.4,478.8" fill="#cb706a"/><polygon points="66.4,478.8 75.7,480.2 81.0,476.1 71.7,474.7" fill="#d88a85"/></g>
<g stroke="#222" stroke-width="0.55" stroke-opacity="0.6" stroke-linejoin="round"><polygon points="101.9,640.0 107.0,635.9 107.0,505.5 101.9,509.7" fill="#c4837d"/><polygon points="92.4,638.6 101.9,640.0 101.9,509.7 92.4,508.3" fill="#dfa49d"/><polygon points="92.4,508.3 101.9,509.7 107.0,505.5 97.6,504.1" fill="#ecbfb9"/></g>
<g stroke="#222" stroke-width="0.55" stroke-opacity="0.6" stroke-linejoin="round"><polygon points="128.5,644.0 133.5,639.8 133.5,538.0 128.5,542.2" fill="#c3cfd8"/><polygon points="118.9,642.6 128.5,644.0 128.5,542.2 118.9,540.8" fill="#dfe7ec"/><polygon points="118.9,540.8 128.5,542.2 133.5,538.0 123.9,536.6" fill="#f0f4f7"/></g>
<g stroke="#222" stroke-width="0.55" stroke-opacity="0.6" stroke-linejoin="round"><polygon points="155.6,648.1 160.4,643.8 160.4,502.5 155.6,506.8" fill="#c4837d"/><polygon points="145.8,646.6 155.6,648.1 155.6,506.8 145.8,505.4" fill="#dfa49d"/><polygon points="145.8,505.4 155.6,506.8 160.4,502.5 150.7,501.1" fill="#ecbfb9"/></g>
<g stroke="#222" stroke-width="0.55" stroke-opacity="0.6" stroke-linejoin="round"><polygon points="183.1,652.2 187.7,647.8 187.7,522.5 183.1,526.8" fill="#e3c5bc"/><polygon points="173.1,650.7 183.1,652.2 183.1,526.8 173.1,525.4" fill="#f7e2db"/><polygon points="173.1,525.4 183.1,526.8 187.7,522.5 177.8,521.0" fill="#fcf0eb"/></g>
<g stroke="#222" stroke-width="0.55" stroke-opacity="0.6" stroke-linejoin="round"><polygon points="211.0,656.4 215.5,651.9 215.5,488.5 211.0,493.0" fill="#a54843"/><polygon points="200.9,654.8 211.0,656.4 211.0,493.0 200.9,491.4" fill="#c5615c"/><polygon points="200.9,491.4 211.0,493.0 215.5,488.5 205.5,487.0" fill="#d27c77"/></g>
<g stroke="#222" stroke-width="0.55" stroke-opacity="0.6" stroke-linejoin="round"><polygon points="239.5,660.6 243.8,656.1 243.8,562.8 239.5,567.3" fill="#c3cfd8"/><polygon points="229.2,659.1 239.5,660.6 239.5,567.3 229.2,565.7" fill="#dfe7ec"/><polygon points="229.2,565.7 239.5,567.3 243.8,562.8 233.6,561.2" fill="#f0f4f7"/></g>
<g stroke="#222" stroke-width="0.55" stroke-opacity="0.6" stroke-linejoin="round"><polygon points="268.4,664.9 272.5,660.3 272.5,548.7 268.4,553.3" fill="#ddb8ab"/><polygon points="257.9,663.4 268.4,664.9 268.4,553.3 257.9,551.7" fill="#f2d5ca"/><polygon points="257.9,551.7 268.4,553.3 272.5,548.7 262.1,547.2" fill="#f9e6de"/></g>
<g stroke="#222" stroke-width="0.55" stroke-opacity="0.6" stroke-linejoin="round"><polygon points="297.8,669.3 301.8,664.7 301.8,555.2 297.8,559.9" fill="#c3cfd8"/><polygon points="287.1,667.7 297.8,669.3 297.8,559.9 287.1,558.3" fill="#dfe7ec"/><polygon points="287.1,558.3 297.8,559.9 301.8,555.2 291.2,553.7" fill="#f0f4f7"/></g>
<g stroke="#222" stroke-width="0.55" stroke-opacity="0.6" stroke-linejoin="round"><polygon points="327.7,673.8 331.5,669.1 331.5,604.2 327.7,608.9" fill="#8aa2c3"/><polygon points="316.9,672.2 327.7,673.8 327.7,608.9 316.9,607.3" fill="#a9bdd7"/><polygon points="316.9,607.3 327.7,608.9 331.5,604.2 320.7,602.6" fill="#bfcfe3"/></g>
<path d="M6.5,629.3 L332.3,678.5 L393.3,601" fill="none" stroke="#2a2a2a" stroke-width="1.5"/>
<g font-size="8" font-weight="bold" fill="#000" text-anchor="middle">
<text transform="translate(9.6,638.5) rotate(9) skewX(-30) scale(1.25,0.85)">1</text>
<text transform="translate(34.6,642.7) rotate(9) skewX(-30) scale(1.25,0.85)">2</text>
<text transform="translate(60.0,646.9) rotate(9) skewX(-30) scale(1.25,0.85)">3</text>
<text transform="translate(85.9,651.0) rotate(9) skewX(-30) scale(1.25,0.85)">4</text>
<text transform="translate(112.2,655.2) rotate(9) skewX(-30) scale(1.25,0.85)">5</text>
<text transform="translate(139.0,659.4) rotate(9) skewX(-30) scale(1.25,0.85)">6</text>
<text transform="translate(166.3,663.6) rotate(9) skewX(-30) scale(1.25,0.85)">7</text>
<text transform="translate(194.1,667.8) rotate(9) skewX(-30) scale(1.25,0.85)">8</text>
<text transform="translate(222.4,672.0) rotate(9) skewX(-30) scale(1.25,0.85)">9</text>
<text transform="translate(251.3,676.1) rotate(9) skewX(-30) scale(1.25,0.85)">10</text>
<text transform="translate(280.6,680.3) rotate(9) skewX(-30) scale(1.25,0.85)">11</text>
<text transform="translate(310.6,684.5) rotate(9) skewX(-30) scale(1.25,0.85)">12</text>
<text transform="translate(348.5,677.0) rotate(-22) skewX(-30) scale(1.3,0.85)">8</text>
<text transform="translate(355.9,667.3) rotate(-22) skewX(-30) scale(1.3,0.85)">7</text>
<text transform="translate(363.3,657.7) rotate(-22) skewX(-30) scale(1.3,0.85)">6</text>
<text transform="translate(370.7,648.0) rotate(-22) skewX(-30) scale(1.3,0.85)">5</text>
<text transform="translate(378.1,638.3) rotate(-22) skewX(-30) scale(1.3,0.85)">4</text>
<text transform="translate(385.5,628.6) rotate(-22) skewX(-30) scale(1.3,0.85)">3</text>
<text transform="translate(392.9,619.0) rotate(-22) skewX(-30) scale(1.3,0.85)">2</text>
<text transform="translate(400.3,609.3) rotate(-22) skewX(-30) scale(1.3,0.85)">1</text>
</g>
</g>
</svg>
</body></html>
